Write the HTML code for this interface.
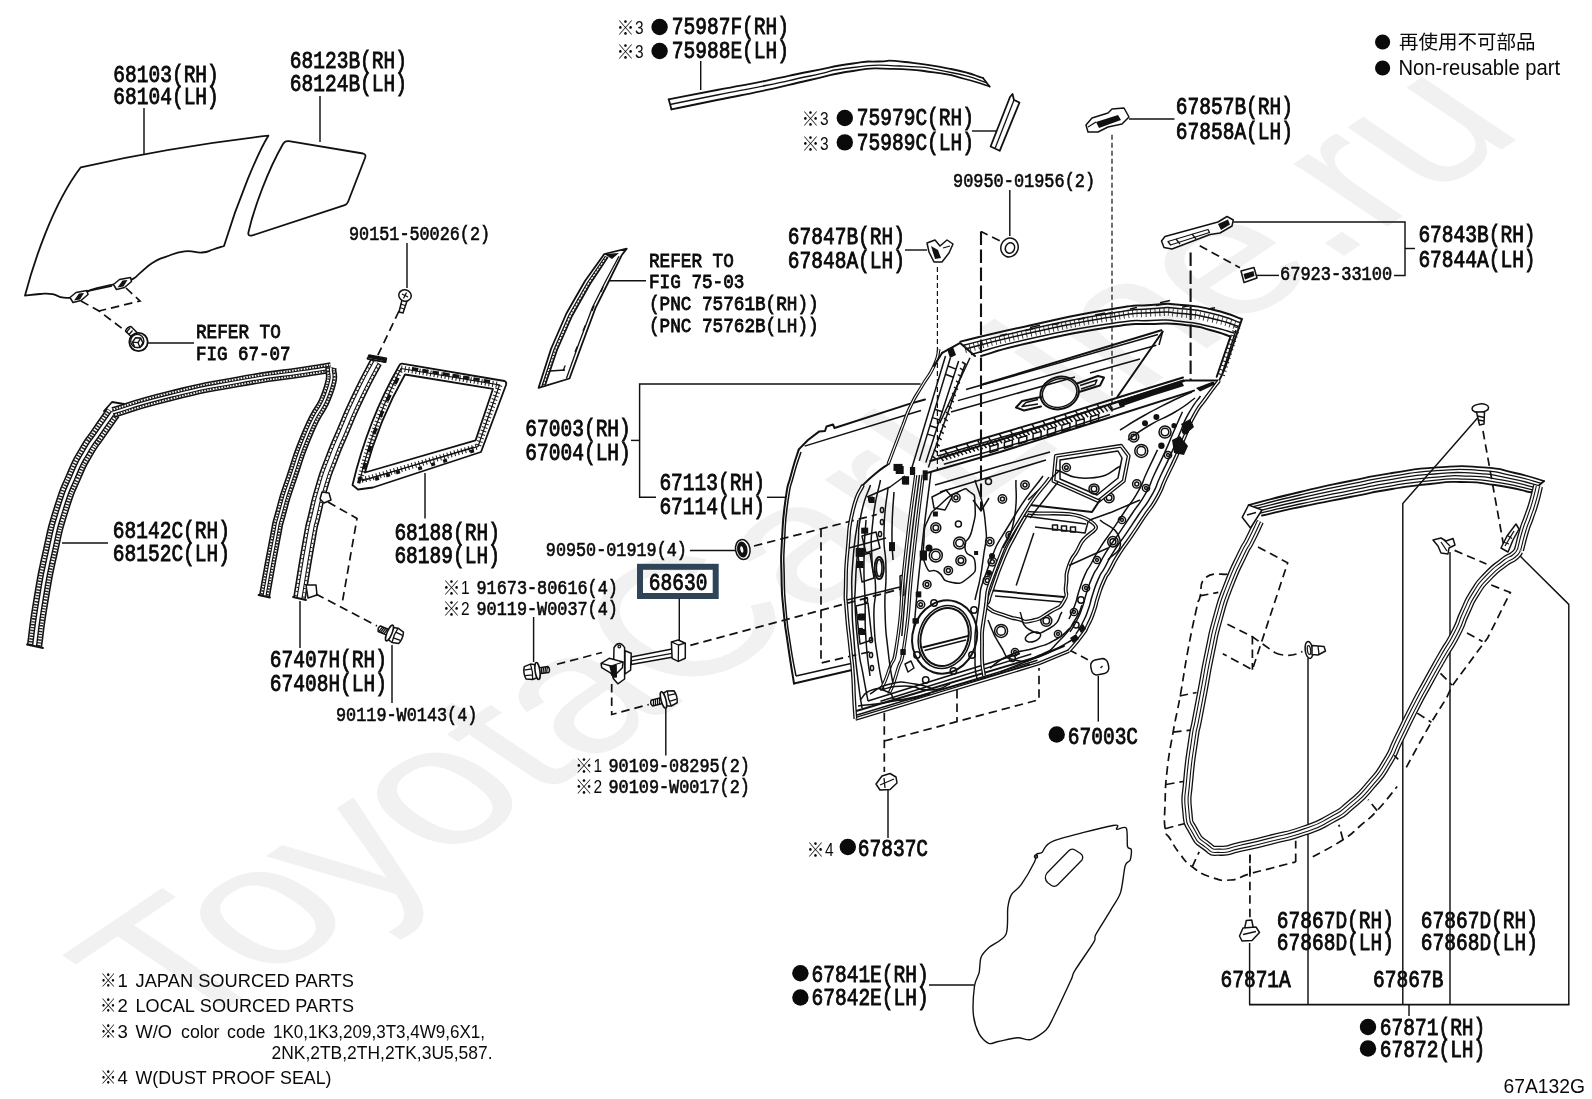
<!DOCTYPE html>
<html lang="ja"><head><meta charset="utf-8"><title>67A132G</title>
<style>
html,body{margin:0;padding:0;background:#fff;}
body{width:1592px;height:1099px;overflow:hidden;}
svg{display:block;will-change:transform;}
text{fill:#0a0a0a;}
.b{font-family:"Liberation Mono",monospace;stroke:#0a0a0a;stroke-width:.9px;}
.s{font-family:"Liberation Mono",monospace;stroke:#0a0a0a;stroke-width:.65px;}
.sb{font-family:"Liberation Mono",monospace;stroke:#0a0a0a;stroke-width:.85px;}
.k{font-family:"Liberation Sans","Noto Sans CJK JP",sans-serif;}
.kd{font-family:"Liberation Sans",sans-serif;}
.n{font-family:"Liberation Sans","Noto Sans CJK JP",sans-serif;}
.wm{font-family:"Liberation Sans",sans-serif;fill:#f1f1f1;}
.l{fill:none;stroke:#111;stroke-width:1.45;}
.o{fill:none;stroke:#111;stroke-width:1.8;stroke-linejoin:round;stroke-linecap:round;}
.t{fill:none;stroke:#111;stroke-width:1.3;stroke-linejoin:round;}
.d{fill:none;stroke:#111;stroke-width:1.7;stroke-dasharray:8.5 5;}
.dd{fill:none;stroke:#111;stroke-width:1.2;stroke-dasharray:5 3;}
.f{fill:#111;stroke:none;}
.door .t{stroke-width:1.5;}
.door .o{stroke-width:2;}
.wf{fill:#fff;stroke:#111;stroke-width:1.5;stroke-linejoin:round;}
</style></head>
<body>
<svg width="1592" height="1099" viewBox="0 0 1592 1099">
<rect width="1592" height="1099" fill="#fff"/>
<text class="wm" transform="matrix(1.7690,-1.1920,1.7690,1.1920,180,1040)" font-size="100" x="0.0 48.3 101.1 148.2 202.2 229.0 282.6 354.8 410.5 443.8 517.4 540.1 593.2 648.8 675.6 706.4" y="0">ToyotaCarLine.ru</text>
<circle cx="1382.6" cy="42.0" r="7.6" fill="#0a0a0a"/>
<circle cx="1382.6" cy="68.0" r="7.6" fill="#0a0a0a"/>
<text class="n" x="1399" y="48.5" font-size="19.5" textLength="136.5" lengthAdjust="spacingAndGlyphs">再使用不可部品</text>
<text class="n" x="1398.5" y="74.7" font-size="21.5" textLength="161.5" lengthAdjust="spacingAndGlyphs">Non-reusable part</text>
<text class="n" x="1503.5" y="1092.8" font-size="19.6" textLength="81.5" lengthAdjust="spacingAndGlyphs">67A132G</text>
<text class="k" x="100" y="987" font-size="18" textLength="16.5" lengthAdjust="spacingAndGlyphs">※</text>
<text class="n" x="117.5" y="987" font-size="18.6">1</text>
<text class="n" x="135.5" y="987" font-size="18.6" textLength="218.5" lengthAdjust="spacingAndGlyphs">JAPAN&#160;SOURCED&#160;PARTS</text>
<text class="k" x="100" y="1012" font-size="18" textLength="16.5" lengthAdjust="spacingAndGlyphs">※</text>
<text class="n" x="117.5" y="1012" font-size="18.6">2</text>
<text class="n" x="135.5" y="1012" font-size="18.6" textLength="218.5" lengthAdjust="spacingAndGlyphs">LOCAL&#160;SOURCED&#160;PARTS</text>
<text class="k" x="100" y="1038" font-size="18" textLength="16.5" lengthAdjust="spacingAndGlyphs">※</text>
<text class="n" x="117.5" y="1038" font-size="18.6">3</text>
<text class="n" x="135.5" y="1038" font-size="18.6" textLength="36.5" lengthAdjust="spacingAndGlyphs">W/O</text>
<text class="n" x="181" y="1038" font-size="18.6" textLength="38.5" lengthAdjust="spacingAndGlyphs">color</text>
<text class="n" x="227" y="1038" font-size="18.6" textLength="38.5" lengthAdjust="spacingAndGlyphs">code</text>
<text class="n" x="273" y="1038" font-size="18.6" textLength="212" lengthAdjust="spacingAndGlyphs">1K0,1K3,209,3T3,4W9,6X1,</text>
<text class="n" x="271.5" y="1058.6" font-size="18.6" textLength="221" lengthAdjust="spacingAndGlyphs">2NK,2TB,2TH,2TK,3U5,587.</text>
<text class="k" x="100" y="1084" font-size="18" textLength="16.5" lengthAdjust="spacingAndGlyphs">※</text>
<text class="n" x="117.5" y="1084" font-size="18.6">4</text>
<text class="n" x="135.5" y="1084" font-size="18.6" textLength="196" lengthAdjust="spacingAndGlyphs">W(DUST&#160;PROOF&#160;SEAL)</text>
<text class="b" x="113.3" y="81.5" font-size="24.6" textLength="105.5" lengthAdjust="spacingAndGlyphs">68103(RH)</text>
<text class="b" x="113.3" y="103.8" font-size="24.6" textLength="105.5" lengthAdjust="spacingAndGlyphs">68104(LH)</text>
<text class="b" x="289.8" y="68.0" font-size="24.6" textLength="117.2" lengthAdjust="spacingAndGlyphs">68123B(RH)</text>
<text class="b" x="289.8" y="90.5" font-size="24.6" textLength="117.2" lengthAdjust="spacingAndGlyphs">68124B(LH)</text>
<text class="b" x="112.8" y="538.0" font-size="24.6" textLength="117.2" lengthAdjust="spacingAndGlyphs">68142C(RH)</text>
<text class="b" x="112.8" y="561.0" font-size="24.6" textLength="117.2" lengthAdjust="spacingAndGlyphs">68152C(LH)</text>
<text class="b" x="394.4" y="540.4" font-size="24.6" textLength="105.5" lengthAdjust="spacingAndGlyphs">68188(RH)</text>
<text class="b" x="394.4" y="563.0" font-size="24.6" textLength="105.5" lengthAdjust="spacingAndGlyphs">68189(LH)</text>
<text class="b" x="269.8" y="667.0" font-size="24.6" textLength="117.2" lengthAdjust="spacingAndGlyphs">67407H(RH)</text>
<text class="b" x="269.8" y="691.0" font-size="24.6" textLength="117.2" lengthAdjust="spacingAndGlyphs">67408H(LH)</text>
<text class="b" x="671.8" y="34.0" font-size="24.6" textLength="117.2" lengthAdjust="spacingAndGlyphs">75987F(RH)</text>
<text class="b" x="671.8" y="58.0" font-size="24.6" textLength="117.2" lengthAdjust="spacingAndGlyphs">75988E(LH)</text>
<text class="b" x="856.8" y="125.0" font-size="24.6" textLength="117.2" lengthAdjust="spacingAndGlyphs">75979C(RH)</text>
<text class="b" x="856.8" y="150.0" font-size="24.6" textLength="117.2" lengthAdjust="spacingAndGlyphs">75989C(LH)</text>
<text class="b" x="787.8" y="244.0" font-size="24.6" textLength="117.2" lengthAdjust="spacingAndGlyphs">67847B(RH)</text>
<text class="b" x="787.8" y="268.0" font-size="24.6" textLength="117.2" lengthAdjust="spacingAndGlyphs">67848A(LH)</text>
<text class="b" x="1175.8" y="114.0" font-size="24.6" textLength="117.2" lengthAdjust="spacingAndGlyphs">67857B(RH)</text>
<text class="b" x="1175.8" y="139.0" font-size="24.6" textLength="117.2" lengthAdjust="spacingAndGlyphs">67858A(LH)</text>
<text class="b" x="1418.4" y="242.0" font-size="24.6" textLength="117.2" lengthAdjust="spacingAndGlyphs">67843B(RH)</text>
<text class="b" x="1418.4" y="266.7" font-size="24.6" textLength="117.2" lengthAdjust="spacingAndGlyphs">67844A(LH)</text>
<text class="b" x="525.3" y="436.0" font-size="24.6" textLength="105.5" lengthAdjust="spacingAndGlyphs">67003(RH)</text>
<text class="b" x="525.3" y="460.0" font-size="24.6" textLength="105.5" lengthAdjust="spacingAndGlyphs">67004(LH)</text>
<text class="b" x="659.4" y="490.0" font-size="24.6" textLength="105.5" lengthAdjust="spacingAndGlyphs">67113(RH)</text>
<text class="b" x="659.4" y="514.0" font-size="24.6" textLength="105.5" lengthAdjust="spacingAndGlyphs">67114(LH)</text>
<text class="b" x="648.8" y="589.6" font-size="24.6" textLength="58.6" lengthAdjust="spacingAndGlyphs">68630</text>
<text class="b" x="1067.8" y="744.0" font-size="24.6" textLength="70.3" lengthAdjust="spacingAndGlyphs">67003C</text>
<text class="b" x="857.8" y="856.0" font-size="24.6" textLength="70.3" lengthAdjust="spacingAndGlyphs">67837C</text>
<text class="b" x="811.5" y="981.5" font-size="24.6" textLength="117.2" lengthAdjust="spacingAndGlyphs">67841E(RH)</text>
<text class="b" x="811.5" y="1005.4" font-size="24.6" textLength="117.2" lengthAdjust="spacingAndGlyphs">67842E(LH)</text>
<text class="b" x="1276.8" y="928.4" font-size="24.6" textLength="117.2" lengthAdjust="spacingAndGlyphs">67867D(RH)</text>
<text class="b" x="1276.8" y="949.6" font-size="24.6" textLength="117.2" lengthAdjust="spacingAndGlyphs">67868D(LH)</text>
<text class="b" x="1420.8" y="928.4" font-size="24.6" textLength="117.2" lengthAdjust="spacingAndGlyphs">67867D(RH)</text>
<text class="b" x="1420.8" y="949.6" font-size="24.6" textLength="117.2" lengthAdjust="spacingAndGlyphs">67868D(LH)</text>
<text class="b" x="1220.5" y="987.0" font-size="24.6" textLength="70.3" lengthAdjust="spacingAndGlyphs">67871A</text>
<text class="b" x="1373.1" y="987.0" font-size="24.6" textLength="70.3" lengthAdjust="spacingAndGlyphs">67867B</text>
<text class="b" x="1379.8" y="1035.2" font-size="24.6" textLength="105.5" lengthAdjust="spacingAndGlyphs">67871(RH)</text>
<text class="b" x="1379.8" y="1056.8" font-size="24.6" textLength="105.5" lengthAdjust="spacingAndGlyphs">67872(LH)</text>
<text class="s" x="349.0" y="239.5" font-size="20.6" textLength="141.1" lengthAdjust="spacingAndGlyphs">90151-50026(2)</text>
<text class="sb" x="196.0" y="338.0" font-size="20.6" textLength="84.8" lengthAdjust="spacingAndGlyphs">REFER&#160;TO</text>
<text class="sb" x="196.0" y="360.0" font-size="20.6" textLength="94.5" lengthAdjust="spacingAndGlyphs">FIG&#160;67-07</text>
<text class="sb" x="649.0" y="267.0" font-size="20.6" textLength="84.8" lengthAdjust="spacingAndGlyphs">REFER&#160;TO</text>
<text class="sb" x="649.0" y="288.0" font-size="20.6" textLength="95.4" lengthAdjust="spacingAndGlyphs">FIG&#160;75-03</text>
<text class="sb" x="649.0" y="310.0" font-size="20.6" textLength="169.6" lengthAdjust="spacingAndGlyphs">(PNC&#160;75761B(RH))</text>
<text class="sb" x="649.0" y="332.0" font-size="20.6" textLength="169.6" lengthAdjust="spacingAndGlyphs">(PNC&#160;75762B(LH))</text>
<text class="s" x="953.0" y="187.0" font-size="20.6" textLength="142.1" lengthAdjust="spacingAndGlyphs">90950-01956(2)</text>
<text class="s" x="1280.0" y="280.0" font-size="20.6" textLength="112.2" lengthAdjust="spacingAndGlyphs">67923-33100</text>
<text class="s" x="545.8" y="555.5" font-size="20.6" textLength="141.1" lengthAdjust="spacingAndGlyphs">90950-01919(4)</text>
<text class="s" x="476.5" y="593.5" font-size="20.6" textLength="141.4" lengthAdjust="spacingAndGlyphs">91673-80616(4)</text>
<text class="s" x="476.5" y="614.5" font-size="20.6" textLength="141.4" lengthAdjust="spacingAndGlyphs">90119-W0037(4)</text>
<text class="s" x="336.0" y="721.0" font-size="20.6" textLength="141.4" lengthAdjust="spacingAndGlyphs">90119-W0143(4)</text>
<text class="s" x="608.5" y="771.5" font-size="20.6" textLength="141.4" lengthAdjust="spacingAndGlyphs">90109-08295(2)</text>
<text class="s" x="608.5" y="792.5" font-size="20.6" textLength="141.4" lengthAdjust="spacingAndGlyphs">90109-W0017(2)</text>
<text class="k" x="616.5" y="34.7" font-size="19" textLength="18" lengthAdjust="spacingAndGlyphs">※</text>
<text class="kd" x="635.0" y="33.5" font-size="17.5" textLength="8.6" lengthAdjust="spacingAndGlyphs">3</text>
<text class="k" x="616.5" y="58.7" font-size="19" textLength="18" lengthAdjust="spacingAndGlyphs">※</text>
<text class="kd" x="635.0" y="57.5" font-size="17.5" textLength="8.6" lengthAdjust="spacingAndGlyphs">3</text>
<text class="k" x="801.5" y="126.2" font-size="19" textLength="18" lengthAdjust="spacingAndGlyphs">※</text>
<text class="kd" x="820.0" y="125.0" font-size="17.5" textLength="8.6" lengthAdjust="spacingAndGlyphs">3</text>
<text class="k" x="801.5" y="151.2" font-size="19" textLength="18" lengthAdjust="spacingAndGlyphs">※</text>
<text class="kd" x="820.0" y="150.0" font-size="17.5" textLength="8.6" lengthAdjust="spacingAndGlyphs">3</text>
<text class="k" x="442.5" y="594.7" font-size="19" textLength="18" lengthAdjust="spacingAndGlyphs">※</text>
<text class="kd" x="461.0" y="593.5" font-size="17.5" textLength="8.6" lengthAdjust="spacingAndGlyphs">1</text>
<text class="k" x="442.5" y="615.7" font-size="19" textLength="18" lengthAdjust="spacingAndGlyphs">※</text>
<text class="kd" x="461.0" y="614.5" font-size="17.5" textLength="8.6" lengthAdjust="spacingAndGlyphs">2</text>
<text class="k" x="575.0" y="772.7" font-size="19" textLength="18" lengthAdjust="spacingAndGlyphs">※</text>
<text class="kd" x="593.5" y="771.5" font-size="17.5" textLength="8.6" lengthAdjust="spacingAndGlyphs">1</text>
<text class="k" x="575.0" y="793.7" font-size="19" textLength="18" lengthAdjust="spacingAndGlyphs">※</text>
<text class="kd" x="593.5" y="792.5" font-size="17.5" textLength="8.6" lengthAdjust="spacingAndGlyphs">2</text>
<text class="k" x="806.5" y="857.2" font-size="19" textLength="18" lengthAdjust="spacingAndGlyphs">※</text>
<text class="kd" x="825.0" y="856.0" font-size="17.5" textLength="8.6" lengthAdjust="spacingAndGlyphs">4</text>
<circle cx="659.6" cy="27.0" r="8.2" fill="#0a0a0a"/>
<circle cx="659.6" cy="51.0" r="8.2" fill="#0a0a0a"/>
<circle cx="844.8" cy="118.0" r="8.2" fill="#0a0a0a"/>
<circle cx="844.8" cy="142.4" r="8.2" fill="#0a0a0a"/>
<circle cx="847.8" cy="847.0" r="8.2" fill="#0a0a0a"/>
<circle cx="800.4" cy="973.2" r="8.2" fill="#0a0a0a"/>
<circle cx="800.4" cy="997.5" r="8.2" fill="#0a0a0a"/>
<circle cx="1056.7" cy="734.5" r="8.2" fill="#0a0a0a"/>
<circle cx="1368.0" cy="1027.0" r="8.2" fill="#0a0a0a"/>
<circle cx="1368.0" cy="1048.5" r="8.2" fill="#0a0a0a"/>
<rect x="640" y="566.8" width="75.7" height="29.2" fill="none" stroke="#2f4557" stroke-width="6"/>
<path class="l" d="M144.0,108.0 L144.0,154.0" />
<path class="l" d="M320.0,96.0 L320.0,142.0" />
<path class="l" d="M148.0,343.0 L194.0,343.0" />
<path class="l" d="M407.0,243.0 L407.0,288.0" />
<path class="l" d="M62.0,543.0 L108.0,543.0" />
<path class="l" d="M425.0,473.0 L425.0,518.5" />
<path class="l" d="M300.0,601.0 L300.0,648.0" />
<path class="l" d="M392.0,645.0 L392.0,703.0" />
<path class="l" d="M700.7,61.0 L700.7,90.0" />
<path class="l" d="M972.0,131.0 L996.0,131.0" />
<path class="l" d="M1009.8,190.0 L1009.8,236.0" />
<path class="l" d="M905.0,250.0 L927.0,250.0" />
<path class="l" d="M609.0,280.7 L646.0,280.7" />
<path class="l" d="M1129.0,119.0 L1174.5,119.0" />
<path class="l" d="M1233.4,222.0 L1405.0,222.0 L1405.0,275.4 L1394.0,275.4" />
<path class="l" d="M1405.0,248.5 L1415.0,248.5" />
<path class="l" d="M1257.0,275.4 L1279.0,275.4" />
<path class="l" d="M920.6,384.0 L639.6,384.0 L639.6,497.3 L656.0,497.3" />
<path class="l" d="M631.0,440.4 L639.6,440.4" />
<path class="l" d="M767.0,497.3 L786.0,497.3" />
<path class="l" d="M690.0,550.5 L736.0,550.5" />
<path class="l" d="M679.3,598.5 L679.3,641.0" />
<path class="l" d="M533.6,617.0 L533.6,662.0" />
<path class="l" d="M665.8,708.5 L665.8,755.5" />
<path class="l" d="M888.0,789.0 L888.0,838.0" />
<path class="l" d="M929.0,985.0 L974.0,985.0" />
<path class="l" d="M1098.3,676.0 L1098.3,721.6" />
<path class="l" d="M1481.0,414.0 L1402.8,503.4 L1402.8,1004.6" />
<path class="l" d="M1450.0,552.0 L1450.0,1004.6" />
<path class="l" d="M1519.6,555.6 L1568.8,604.4 L1568.8,1004.6" />
<path class="l" d="M1308.0,658.0 L1308.0,1004.6" />
<path class="l" d="M1249.6,943.0 L1249.6,1004.6" />
<path class="l" d="M1249.0,1004.6 L1569.5,1004.6" style="stroke-width:1.6"/>
<path class="l" d="M1409.0,1004.6 L1409.0,1016.0" />
<path class="o" d="M80.8,167.3 C140,154 205,143 268.4,135.7 C258,152 238,200 224,246 L224.0,246.0 C221.1,246.9 218.9,247.8 213.0,249.5 C207.1,251.2 209.6,252.0 202.0,252.5 C194.4,253.0 194.2,250.1 184.5,251.3 C174.8,252.5 174.0,253.9 165.6,256.9 C157.2,259.9 159.7,258.4 153.0,262.6 C146.3,266.8 145.8,268.3 140.5,272.6 C135.2,276.9 138.2,276.0 133.0,278.9 C127.8,281.8 127.0,281.6 121.0,283.3 C115.0,285.0 118.6,283.4 110.4,285.2 C102.2,287.0 98.5,287.3 90.3,290.2 C82.1,293.1 86.6,293.9 79.6,295.9 C72.6,297.9 71.1,298.2 63.9,297.7 C56.7,297.2 59.0,295.2 52.6,294.2 C46.2,293.2 47.4,293.6 40.0,294.0 C32.6,294.4 29.0,295.2 25.0,295.6 C33,265 52,205 80.8,167.3 Z" />
<path class="o" d="M283,144 Q285,140.5 289,141.2 L363,153.5 Q366.5,154.5 365,158 L348,202 Q347,204.5 344,205.3 L252,235.5 Q247.5,236.5 248.5,232 C254,208 268,170 283,144 Z" />
<path class="wf" d="M70.0,297.5 L76.0,292.5 L87.0,290.5 L88.0,294.5 L81.0,300.5 L73.0,302.5 Z" />
<path class="f" d="M74.0,300.5 L79.0,293.5 L84.0,293.0 L80.0,299.5 Z" />
<path class="wf" d="M113.5,284.5 L119.5,279.5 L130.5,277.5 L131.5,281.5 L124.5,287.5 L116.5,289.5 Z" />
<path class="f" d="M117.5,287.5 L122.5,280.5 L127.5,280.0 L123.5,286.5 Z" />
<path class="l" d="M86.0,291.5 L112.0,286.0" />
<path class="d" d="M81.0,301.0 L99.0,311.0 L128.0,333.0" />
<path class="d" d="M126.0,288.0 L140.0,301.0 L99.0,311.0" />
<g transform="translate(138.5,342)"><path class="wf" d="M-6,-4 L-13,-11 Q-11.5,-15 -7.5,-15.5 L0,-8 Z"/><path class="t" d="M-9.5,-7.5 L-6,-11.5 M-12,-10 L-8.5,-14"/><circle class="wf" r="9.2" style="stroke-width:1.8"/><circle class="t" cx="-1.2" cy="-1" r="6.6"/><path class="wf" d="M4.5,1 L1.5,5.6 L-3.8,5.2 L-6,0.2 L-3,-4.2 L2.2,-3.9 Z"/><path class="t" d="M-0.5,0.6 L2.2,-3.9 M-0.5,0.6 L-6,0.2 M-0.5,0.6 L1.5,5.6"/></g>
<path class="d" d="M399.0,311.0 L377.0,357.0" />
<path class="wf" d="M402.0,300.0 L399.0,312.0 L403.0,313.0 L407.0,301.0 Z" />
<path class="t" d="M400.5,304.0 L405.0,305.5" />
<path class="t" d="M399.8,307.5 L404.2,309.0" />
<ellipse class="wf" cx="405.0" cy="295.5" rx="6.3" ry="5.6" transform="rotate(15 405.0 295.5)"/>
<path class="t" d="M402.0,294.0 L408.0,297.0" />
<path class="t" d="M406.5,292.5 L403.5,298.5" />
<path d="M34.5,646.0 C36.7,630.7 35.7,631.7 41.0,600.0 C46.3,568.3 43.8,581.0 50.5,551.0 C57.2,521.0 53.3,534.7 61.0,510.0 C68.7,485.3 65.2,496.3 73.5,477.0 C81.8,457.7 77.8,466.3 86.0,452.0 C94.2,437.7 89.0,447.2 98.0,434.0 C107.0,420.8 108.0,419.7 113.0,412.5" fill="none" stroke="#111" stroke-width="15.5" stroke-linejoin="round"/>
<path d="M34.5,646.0 C36.7,630.7 35.7,631.7 41.0,600.0 C46.3,568.3 43.8,581.0 50.5,551.0 C57.2,521.0 53.3,534.7 61.0,510.0 C68.7,485.3 65.2,496.3 73.5,477.0 C81.8,457.7 77.8,466.3 86.0,452.0 C94.2,437.7 89.0,447.2 98.0,434.0 C107.0,420.8 108.0,419.7 113.0,412.5" fill="none" stroke="#fff" stroke-width="12.3" stroke-linejoin="round"/>
<path d="M34.5,646.0 C36.7,630.7 35.7,631.7 41.0,600.0 C46.3,568.3 43.8,581.0 50.5,551.0 C57.2,521.0 53.3,534.7 61.0,510.0 C68.7,485.3 65.2,496.3 73.5,477.0 C81.8,457.7 77.8,466.3 86.0,452.0 C94.2,437.7 89.0,447.2 98.0,434.0 C107.0,420.8 108.0,419.7 113.0,412.5" fill="none" stroke="#222" stroke-width="12.3" stroke-dasharray="1.4 1.5" stroke-linejoin="round"/>
<path d="M34.5,646.0 C36.7,630.7 35.7,631.7 41.0,600.0 C46.3,568.3 43.8,581.0 50.5,551.0 C57.2,521.0 53.3,534.7 61.0,510.0 C68.7,485.3 65.2,496.3 73.5,477.0 C81.8,457.7 77.8,466.3 86.0,452.0 C94.2,437.7 89.0,447.2 98.0,434.0 C107.0,420.8 108.0,419.7 113.0,412.5" fill="none" stroke="#111" stroke-width="5.4" stroke-linejoin="round"/>
<path d="M34.5,646.0 C36.7,630.7 35.7,631.7 41.0,600.0 C46.3,568.3 43.8,581.0 50.5,551.0 C57.2,521.0 53.3,534.7 61.0,510.0 C68.7,485.3 65.2,496.3 73.5,477.0 C81.8,457.7 77.8,466.3 86.0,452.0 C94.2,437.7 89.0,447.2 98.0,434.0 C107.0,420.8 108.0,419.7 113.0,412.5" fill="none" stroke="#fff" stroke-width="2.6" stroke-linejoin="round"/>
<path d="M113.0,412.5 C132.0,407.0 128.7,406.2 170.0,396.0 C211.3,385.8 192.7,390.0 237.0,382.0 C281.3,374.0 271.7,376.8 303.0,372.0 C334.3,367.2 321.7,369.0 331.0,367.5" fill="none" stroke="#111" stroke-width="10.8" stroke-linejoin="round"/>
<path d="M113.0,412.5 C132.0,407.0 128.7,406.2 170.0,396.0 C211.3,385.8 192.7,390.0 237.0,382.0 C281.3,374.0 271.7,376.8 303.0,372.0 C334.3,367.2 321.7,369.0 331.0,367.5" fill="none" stroke="#fff" stroke-width="7.6000000000000005" stroke-linejoin="round"/>
<path d="M113.0,412.5 C132.0,407.0 128.7,406.2 170.0,396.0 C211.3,385.8 192.7,390.0 237.0,382.0 C281.3,374.0 271.7,376.8 303.0,372.0 C334.3,367.2 321.7,369.0 331.0,367.5" fill="none" stroke="#222" stroke-width="7.6000000000000005" stroke-dasharray="1.4 1.5" stroke-linejoin="round"/>
<path d="M113.0,412.5 C132.0,407.0 128.7,406.2 170.0,396.0 C211.3,385.8 192.7,390.0 237.0,382.0 C281.3,374.0 271.7,376.8 303.0,372.0 C334.3,367.2 321.7,369.0 331.0,367.5" fill="none" stroke="#111" stroke-width="4" stroke-linejoin="round"/>
<path d="M113.0,412.5 C132.0,407.0 128.7,406.2 170.0,396.0 C211.3,385.8 192.7,390.0 237.0,382.0 C281.3,374.0 271.7,376.8 303.0,372.0 C334.3,367.2 321.7,369.0 331.0,367.5" fill="none" stroke="#fff" stroke-width="1.8" stroke-linejoin="round"/>
<path d="M331.0,367.5 C329.8,376.0 335.0,371.8 327.5,393.0 C320.0,414.2 320.5,402.7 308.5,431.0 C296.5,459.3 300.7,451.0 291.5,478.0 C282.3,505.0 286.7,491.0 281.0,512.0 C275.3,533.0 280.0,513.0 274.5,541.0 C269.0,569.0 267.8,577.7 264.5,596.0" fill="none" stroke="#111" stroke-width="11.2" stroke-linejoin="round"/>
<path d="M331.0,367.5 C329.8,376.0 335.0,371.8 327.5,393.0 C320.0,414.2 320.5,402.7 308.5,431.0 C296.5,459.3 300.7,451.0 291.5,478.0 C282.3,505.0 286.7,491.0 281.0,512.0 C275.3,533.0 280.0,513.0 274.5,541.0 C269.0,569.0 267.8,577.7 264.5,596.0" fill="none" stroke="#fff" stroke-width="7.999999999999999" stroke-linejoin="round"/>
<path d="M331.0,367.5 C329.8,376.0 335.0,371.8 327.5,393.0 C320.0,414.2 320.5,402.7 308.5,431.0 C296.5,459.3 300.7,451.0 291.5,478.0 C282.3,505.0 286.7,491.0 281.0,512.0 C275.3,533.0 280.0,513.0 274.5,541.0 C269.0,569.0 267.8,577.7 264.5,596.0" fill="none" stroke="#222" stroke-width="7.999999999999999" stroke-dasharray="1.4 1.5" stroke-linejoin="round"/>
<path d="M331.0,367.5 C329.8,376.0 335.0,371.8 327.5,393.0 C320.0,414.2 320.5,402.7 308.5,431.0 C296.5,459.3 300.7,451.0 291.5,478.0 C282.3,505.0 286.7,491.0 281.0,512.0 C275.3,533.0 280.0,513.0 274.5,541.0 C269.0,569.0 267.8,577.7 264.5,596.0" fill="none" stroke="#111" stroke-width="4" stroke-linejoin="round"/>
<path d="M331.0,367.5 C329.8,376.0 335.0,371.8 327.5,393.0 C320.0,414.2 320.5,402.7 308.5,431.0 C296.5,459.3 300.7,451.0 291.5,478.0 C282.3,505.0 286.7,491.0 281.0,512.0 C275.3,533.0 280.0,513.0 274.5,541.0 C269.0,569.0 267.8,577.7 264.5,596.0" fill="none" stroke="#fff" stroke-width="1.8" stroke-linejoin="round"/>
<path class="o" d="M27.0,644.5 L43.0,648.0" />
<path class="o" d="M258.5,595.0 L270.0,597.5" />
<path class="o" d="M104.0,411.0 L112.0,402.0 L124.0,404.0" />
<path d="M376.0,362.0 C370.0,373.7 369.0,374.0 358.0,397.0 C347.0,420.0 352.0,410.0 343.0,431.0 C334.0,452.0 338.0,441.7 331.0,460.0 C324.0,478.3 327.5,467.7 322.0,486.0 C316.5,504.3 318.8,496.7 314.5,515.0 C310.2,533.3 314.0,513.3 309.0,541.0 C304.0,568.7 302.7,579.0 299.5,598.0" fill="none" stroke="#111" stroke-width="12.8" stroke-linejoin="round"/>
<path d="M376.0,362.0 C370.0,373.7 369.0,374.0 358.0,397.0 C347.0,420.0 352.0,410.0 343.0,431.0 C334.0,452.0 338.0,441.7 331.0,460.0 C324.0,478.3 327.5,467.7 322.0,486.0 C316.5,504.3 318.8,496.7 314.5,515.0 C310.2,533.3 314.0,513.3 309.0,541.0 C304.0,568.7 302.7,579.0 299.5,598.0" fill="none" stroke="#fff" stroke-width="9.600000000000001" stroke-linejoin="round"/>
<path d="M376.0,362.0 C370.0,373.7 369.0,374.0 358.0,397.0 C347.0,420.0 352.0,410.0 343.0,431.0 C334.0,452.0 338.0,441.7 331.0,460.0 C324.0,478.3 327.5,467.7 322.0,486.0 C316.5,504.3 318.8,496.7 314.5,515.0 C310.2,533.3 314.0,513.3 309.0,541.0 C304.0,568.7 302.7,579.0 299.5,598.0" fill="none" stroke="#222" stroke-width="9.600000000000001" stroke-dasharray="1 3.2" stroke-linejoin="round"/>
<path d="M376.0,362.0 C370.0,373.7 369.0,374.0 358.0,397.0 C347.0,420.0 352.0,410.0 343.0,431.0 C334.0,452.0 338.0,441.7 331.0,460.0 C324.0,478.3 327.5,467.7 322.0,486.0 C316.5,504.3 318.8,496.7 314.5,515.0 C310.2,533.3 314.0,513.3 309.0,541.0 C304.0,568.7 302.7,579.0 299.5,598.0" fill="none" stroke="#111" stroke-width="6" stroke-linejoin="round"/>
<path d="M376.0,362.0 C370.0,373.7 369.0,374.0 358.0,397.0 C347.0,420.0 352.0,410.0 343.0,431.0 C334.0,452.0 338.0,441.7 331.0,460.0 C324.0,478.3 327.5,467.7 322.0,486.0 C316.5,504.3 318.8,496.7 314.5,515.0 C310.2,533.3 314.0,513.3 309.0,541.0 C304.0,568.7 302.7,579.0 299.5,598.0" fill="none" stroke="#fff" stroke-width="3.8" stroke-linejoin="round"/>
<path class="o" d="M367.5,358.5 L385.5,362.0" />
<path class="o" d="M293.0,597.0 L306.0,600.0" />
<path class="wf" d="M369.0,355.0 L386.5,358.3 L385.5,362.0 L367.5,358.7 Z" />
<path class="o" d="M369.5,356.8 L385.0,359.8" style="stroke-width:3"/>
<path class="wf" d="M322.0,492.0 L329.0,493.0 L331.0,500.0 L324.0,503.0 L320.0,499.0 Z" />
<path class="wf" d="M306.0,585.0 L316.0,585.0 L317.0,595.0 L308.0,598.0 Z" />
<path class="d" d="M328.0,502.0 L357.0,518.5 L342.0,604.0" />
<path class="d" d="M316.0,594.0 L377.0,626.0" />
<g transform="translate(389.5,633.0) rotate(203) scale(1.0)"><path class="wf" d="M1,-3 L11,-3 Q13.2,0 11,3 L1,3 Z"/><path class="t" d="M3.2,3 L4.8,-3"/><path class="t" d="M5.1,3 L6.7,-3"/><path class="t" d="M7.0,3 L8.6,-3"/><path class="t" d="M8.8,3 L10.4,-3"/><path class="wf" d="M-1.5,-6.6 L-6,-7.8 L-12.5,-6.2 Q-14.8,0 -12.5,6.2 L-6,7.8 L-1.5,6.6 Z"/><path class="t" d="M-12.9,-2.6 L-5.5,-3 M-12.9,2.9 L-5.5,3.2 M-6,-7.8 Q-4.4,0 -6,7.8"/><ellipse class="wf" cx="0" cy="0" rx="2.4" ry="8.5" style="stroke-width:1.6"/></g>
<path d="M402,363.6 L504.5,381 Q507,382 506,385 L481,452 L373,487.5 L358,489.5 L352.5,485 Q368,420 399,366 Q400,363.4 402,363.6 Z" fill="#fff" stroke="#111" stroke-width="1.8" stroke-linejoin="round"/>
<path d="M401,368.5 L499.5,385 L478,446.5 L369,478.5 L360,480 Q374,421 401,368.5 Z" fill="none" stroke="#222" stroke-width="6" stroke-dasharray="1.1 2.6"/>
<path d="M401,368.5 L499.5,385 L478,446.5 L369,478.5 L360,480 Q374,421 401,368.5 Z" fill="none" stroke="#111" stroke-width="1.2"/>
<path d="M405,374.5 L493,388.8 L475.6,440.4 L365,472.5 Q379,420 405,374.5 Z" fill="#fff" stroke="#111" stroke-width="1.8" stroke-linejoin="round"/>
<path class="t" d="M362.0,481.0 L474.0,447.0" />
<rect class="f" x="411.9" y="367.5" width="6.4" height="3.2" transform="rotate(9.5 415.1 369.1)"/>
<rect class="f" x="422.2" y="369.2" width="6.4" height="3.2" transform="rotate(9.5 425.4 370.8)"/>
<rect class="f" x="432.4" y="370.9" width="6.4" height="3.2" transform="rotate(9.5 435.6 372.5)"/>
<rect class="f" x="442.6" y="372.6" width="6.4" height="3.2" transform="rotate(9.5 445.8 374.2)"/>
<rect class="f" x="452.9" y="374.3" width="6.4" height="3.2" transform="rotate(9.5 456.1 375.9)"/>
<rect class="f" x="463.1" y="376.0" width="6.4" height="3.2" transform="rotate(9.5 466.3 377.6)"/>
<rect class="f" x="473.3" y="377.7" width="6.4" height="3.2" transform="rotate(9.5 476.5 379.3)"/>
<rect class="f" x="483.6" y="379.4" width="6.4" height="3.2" transform="rotate(9.5 486.8 381.0)"/>
<rect class="f" x="393.1" y="379.3" width="6.8" height="3.4" transform="rotate(-62 396.5 381.0)"/>
<rect class="f" x="385.1" y="396.3" width="6.8" height="3.4" transform="rotate(-64 388.5 398.0)"/>
<rect class="f" x="378.1" y="412.3" width="6.8" height="3.4" transform="rotate(-67 381.5 414.0)"/>
<rect class="f" x="371.6" y="429.3" width="6.8" height="3.4" transform="rotate(-70 375.0 431.0)"/>
<rect class="f" x="366.1" y="447.3" width="6.8" height="3.4" transform="rotate(-73 369.5 449.0)"/>
<rect class="f" x="361.1" y="464.3" width="6.8" height="3.4" transform="rotate(-75 364.5 466.0)"/>
<rect class="f" x="356.1" y="478.3" width="6.8" height="3.4" transform="rotate(-76 359.5 480.0)"/>
<rect class="f" x="375.0" y="477.0" width="4" height="3.4" transform="rotate(-17 377.0 478.5)"/>
<rect class="f" x="386.0" y="473.5" width="4" height="3.4" transform="rotate(-17 388.0 475.0)"/>
<rect class="f" x="396.0" y="470.5" width="4" height="3.4" transform="rotate(-17 398.0 472.0)"/>
<rect class="f" x="418.0" y="466.5" width="4" height="3.4" transform="rotate(-17 420.0 468.0)"/>
<rect class="f" x="431.0" y="462.5" width="4" height="3.4" transform="rotate(-17 433.0 464.0)"/>
<rect class="f" x="443.0" y="459.0" width="4" height="3.4" transform="rotate(-17 445.0 460.5)"/>
<rect class="f" x="470.0" y="449.5" width="4" height="3.4" transform="rotate(-17 472.0 451.0)"/>
<path class="o" d="M668.7,99.3 C684.8,96.2 684.7,96.2 717.0,90.0 C749.3,83.8 734.7,87.0 765.7,80.8 C796.7,74.6 780.9,77.3 810.0,71.5 C839.1,65.7 830.3,66.8 853.0,63.5 C875.7,60.2 860.7,62.0 878.0,61.5 C895.3,61.0 880.7,59.5 905.0,62.0 C929.3,64.5 925.0,63.7 951.0,69.0 C977.0,74.3 972.3,75.0 983.0,78.0" />
<path class="o" d="M671.5,109.4 C686.7,106.3 685.6,106.4 717.0,100.0 C748.4,93.6 734.7,96.9 765.7,90.2 C796.7,83.5 780.9,86.4 810.0,80.0 C839.1,73.6 826.3,74.7 853.0,71.0 C879.7,67.3 863.0,68.3 890.0,68.8 C917.0,69.3 909.0,69.0 934.0,72.4 C959.0,75.8 946.5,74.3 965.0,79.0 C983.5,83.7 981.4,84.0 989.6,86.5" />
<path class="t" d="M670.0,104.5 C685.7,101.3 685.1,101.3 717.0,95.0 C748.9,88.7 734.7,91.8 765.7,85.5 C796.7,79.2 780.9,82.0 810.0,76.0 C839.1,70.0 823.0,70.8 853.0,67.5 C883.0,64.2 867.3,64.3 900.0,66.0 C932.7,67.7 922.3,67.0 951.0,72.5 C979.7,78.0 974.3,79.2 986.0,82.5" />
<path class="o" d="M668.7,99.3 L671.5,109.4" />
<path class="o" d="M983.0,78.0 L989.6,86.5" />
<path class="o" d="M1012.5,94.0 L1014.0,100.0 L1019.5,102.5 L999.7,150.8 L990.6,146.5 L1010.0,97.0 Z" />
<path class="t" d="M1014.0,100.0 L995.0,148.5" />
<ellipse class="wf" cx="1009.5" cy="247.5" rx="8.6" ry="9.5" transform="rotate(20 1009.5 247.5)"/>
<ellipse class="wf" cx="1010.0" cy="248.0" rx="4.6" ry="5.4" transform="rotate(20 1010.0 248.0)"/>
<path class="d" d="M999.7,240.7 L981.0,231.6" />
<path class="d" d="M981.0,231.6 L981.0,511.0" style="stroke-width:2.1;stroke-dasharray:13.5 4.5"/>
<path class="wf" d="M927.0,243.0 L935.0,240.0 L940.0,246.0 L947.0,240.0 L953.0,244.0 L949.0,253.0 L942.0,262.0 L934.0,262.0 L929.0,252.0 Z" />
<path class="f" d="M931.0,246.0 L938.0,250.0 L941.0,258.0 L935.0,259.0 Z" />
<path class="t" d="M943.0,248.0 L950.0,246.0" />
<path class="dd" d="M937.4,267.0 L937.4,470.0" />
<path class="wf" d="M1086.0,125.0 L1092.0,118.0 L1108.0,113.0 L1112.0,109.0 L1124.0,108.0 L1129.0,117.0 L1122.0,124.0 L1108.0,127.0 L1098.0,132.0 L1088.0,132.0 Z" />
<path class="f" d="M1096.0,122.0 L1118.0,115.0 L1121.0,120.0 L1099.0,128.0 Z" />
<path class="t" d="M1088.0,127.0 L1096.0,122.0" />
<path class="dd" d="M1112.0,134.7 L1112.0,415.0" />
<path class="wf" d="M1161.5,241.0 L1165.0,236.5 L1218.0,222.0 L1227.0,216.5 L1233.3,220.0 L1232.0,226.0 L1220.0,233.0 L1210.0,234.5 L1172.0,249.0 L1164.0,247.5 Z" />
<path class="t" d="M1168.0,241.5 L1208.0,229.5 L1209.5,232.5 L1170.5,245.0 Z" />
<path class="f" d="M1218.0,224.0 L1228.0,219.5 L1230.0,224.5 L1221.0,230.0 Z" />
<path class="t" d="M1176.0,239.0 L1180.0,244.0" />
<path class="t" d="M1192.0,234.0 L1196.0,239.0" />
<path class="d" d="M1199.7,245.8 L1240.0,267.7" />
<path class="d" d="M1190.6,252.5 L1190.6,380.0" style="stroke-width:2.1;stroke-dasharray:13.5 4.5"/>
<path class="wf" d="M1241.0,271.0 L1254.0,267.5 L1257.0,278.0 L1244.0,282.5 Z" />
<path class="f" d="M1243.5,274.0 L1253.5,271.0 L1254.5,276.0 L1245.0,279.5 Z" />
<path class="o" d="M626.7,248.6 L604.3,254.0 L585.0,281.0 L566.4,313.5 L551.0,349.0 L538.6,387.8 L569.5,378.5 L581.9,344.5 L595.8,307.3 L609.7,279.5 L622.0,254.7 Z" style="stroke-width:1.8"/>
<path class="o" d="M545.5,384.0 L557.0,350.0 L572.0,316.0 L590.0,284.0 L607.5,257.5" />
<path class="t" d="M542.0,386.0 L554.0,349.5 L569.0,315.0 L587.5,282.5 L605.5,256.0" />
<path class="t" d="M566.4,378.5 L578.5,344.5 L592.5,307.3 L606.5,279.5 L619.0,256.3" />
<path class="f" d="M604.3,254.0 L612.0,259.0 L619.0,253.0 Z" />
<path class="t" d="M550.0,371.0 L565.0,370.0" />
<path d="M543.8,385 L555.5,349.7 L570.5,315.5 L588.7,283.2 L606.5,256.7" fill="none" stroke="#222" stroke-width="3" stroke-dasharray="1 2.4"/>
<path class="t" d="M575.0,352.0 L577.2,346.5" />
<path class="t" d="M583.0,331.0 L585.2,325.5" />
<path class="t" d="M592.0,311.0 L594.2,305.5" />
<path class="t" d="M601.0,292.0 L603.2,286.5" />
<path class="t" d="M563.0,371.0 L565.2,365.5" />
<ellipse class="wf" cx="742.8" cy="549.5" rx="7.2" ry="10" transform="rotate(-10 742.8 549.5)"/>
<ellipse class="f" cx="742.3" cy="549.5" rx="5.2" ry="8" transform="rotate(-10 742.3 549.5)"/>
<ellipse class="wf" cx="741.8" cy="549.5" rx="2.2" ry="4" transform="rotate(-10 741.8 549.5)"/>
<path class="d" d="M754.0,546.0 L876.8,514.5" />
<g transform="translate(537.5,671.0) rotate(-8) scale(1.0)"><path class="wf" d="M1,-3 L11,-3 Q13.2,0 11,3 L1,3 Z"/><path class="t" d="M3.2,3 L4.8,-3"/><path class="t" d="M5.1,3 L6.7,-3"/><path class="t" d="M7.0,3 L8.6,-3"/><path class="t" d="M8.8,3 L10.4,-3"/><path class="wf" d="M-1.5,-6.6 L-6,-7.8 L-12.5,-6.2 Q-14.8,0 -12.5,6.2 L-6,7.8 L-1.5,6.6 Z"/><path class="t" d="M-12.9,-2.6 L-5.5,-3 M-12.9,2.9 L-5.5,3.2 M-6,-7.8 Q-4.4,0 -6,7.8"/><ellipse class="wf" cx="0" cy="0" rx="2.4" ry="8.5" style="stroke-width:1.6"/></g>
<path class="d" d="M557.0,664.3 L602.0,652.5" />
<path class="wf" d="M631.2,657.0 L673.3,648.8 L673.3,657.0 L631.2,664.5 Z" />
<path class="t" d="M631.2,660.8 L673.3,653.2" />
<path class="wf" d="M614,647.6 Q619,639.5 624.6,647.6 L624.6,679 L617.8,683.8 L613.3,678.4 Z" />
<path class="wf" d="M601.1,663.3 L609.2,658.3 L623.1,662.0 L622.4,667.7 L614.0,676.0 L610.0,672.7 L601.7,667.7 Z" />
<path class="f" d="M609.2,666.0 L616.8,664.5 L617.0,677.5 L612.5,678.0 Z" />
<path class="t" d="M601.1,663.3 L611.0,666.0 L623.1,662.0" />
<path class="t" d="M611.0,666.0 L612.0,676.0" />
<path class="wf" d="M625.0,650.7 L631.2,653.2 L630.6,670.2 L625.0,674.0 Z" />
<circle class="t" cx="619.3" cy="646.5" r="1.3" />
<path class="wf" d="M671.4,641.9 L678.3,640.0 L685.3,643.2 L685.3,658.3 L678.3,661.4 L672.1,658.3 Z" />
<path class="t" d="M671.4,641.9 L678.5,645.0 L685.3,643.2" />
<path class="t" d="M678.5,645.0 L678.3,661.4" />
<path class="d" d="M690.3,645.4 L900.0,589.0" />
<path class="d" d="M611.7,684.0 L611.7,714.5 L648.8,704.5" />
<g transform="translate(663.5,700.0) rotate(165) scale(1.0)"><path class="wf" d="M1,-3 L12,-3 Q14.2,0 12,3 L1,3 Z"/><path class="t" d="M3.2,3 L4.8,-3"/><path class="t" d="M5.3,3 L6.9,-3"/><path class="t" d="M7.5,3 L9.1,-3"/><path class="t" d="M9.6,3 L11.2,-3"/><path class="wf" d="M-1.5,-6.6 L-6,-7.8 L-12.5,-6.2 Q-14.8,0 -12.5,6.2 L-6,7.8 L-1.5,6.6 Z"/><path class="t" d="M-12.9,-2.6 L-5.5,-3 M-12.9,2.9 L-5.5,3.2 M-6,-7.8 Q-4.4,0 -6,7.8"/><ellipse class="wf" cx="0" cy="0" rx="2.4" ry="8.5" style="stroke-width:1.6"/></g>
<path class="d" d="M821.0,528.7 L821.0,663.0 L873.0,651.0" />
<path class="wf" d="M876.0,784.0 L882.0,776.0 L890.0,773.5 L896.0,777.0 L897.0,783.0 L890.0,789.5 L880.0,790.0 Z" />
<path class="t" d="M880.0,785.0 L894.0,779.0" />
<path class="t" d="M884.0,778.0 L885.0,788.0" />
<path class="d" d="M884.3,712.8 L884.3,772.0" />
<path class="d" d="M884.3,741.0 L1039.0,699.7 L1039.0,668.0" />
<path class="d" d="M957.0,690.0 L957.0,721.0" />
<rect class="wf" x="1091" y="659.3" width="17.5" height="15" rx="5.5" transform="rotate(-12 1099.6 666.8)"/>
<path class="t" d="M1100.5,668.0 L1102.5,666.0" />
<path class="d" d="M1069.0,649.7 L1087.8,659.7" />
<path class="o" d="M1053.7,840.8 C1064.1,836.9 1103.7,827.2 1113.0,825.5 C1122.3,823.8 1114.8,828.9 1116.8,829.3 C1118.8,829.7 1124.7,825.6 1126.3,828.1 C1127.9,830.6 1126.8,843.3 1127.5,846.5 C1128.2,849.7 1130.9,847.6 1131.3,849.6 C1131.7,851.6 1131.1,857.6 1130.2,859.9 C1129.3,862.2 1126.6,860.8 1125.2,865.6 C1123.8,870.4 1122.7,885.9 1120.6,892.4 C1118.5,898.9 1114.6,903.4 1111.0,909.6 C1107.4,915.8 1098.3,929.7 1095.8,934.5 C1093.3,939.3 1096.9,936.8 1093.8,942.1 C1090.7,947.4 1078.1,965.2 1074.7,970.8 C1071.3,976.4 1074.0,973.6 1070.9,980.3 C1067.8,987.0 1057.4,1009.4 1053.7,1016.7 C1050.0,1024.0 1049.4,1026.6 1046.0,1030.0 C1042.6,1033.4 1034.9,1038.5 1030.7,1039.6 C1026.5,1040.7 1022.2,1037.4 1017.4,1037.7 C1012.6,1038.0 1002.4,1040.7 998.2,1041.5 C994.0,1042.3 991.5,1044.5 988.7,1043.4 C985.9,1042.3 981.3,1038.1 979.1,1033.9 C976.9,1029.7 974.1,1021.8 973.4,1014.8 C972.7,1007.8 973.7,992.2 974.5,986.0 C975.3,979.8 978.1,976.9 979.1,972.7 C980.1,968.5 979.6,961.1 981.0,957.4 C982.4,953.7 985.0,951.2 988.7,947.8 C992.4,944.4 1003.1,940.4 1005.9,934.5 C1008.7,928.6 1007.0,913.6 1007.8,907.7 C1008.6,901.8 1009.6,897.7 1011.6,894.3 C1013.6,890.9 1017.8,889.5 1021.2,884.7 C1024.6,879.9 1032.4,866.3 1034.6,861.8 C1036.8,857.3 1035.4,855.6 1036.5,854.2 C1037.6,852.8 1039.7,854.2 1042.2,852.2 C1044.7,850.2 1043.3,844.7 1053.7,840.8 Z" style="stroke-width:1.4"/>
<path class="t" d="M1047,873 L1068.5,851 Q1071.5,848 1075,850 L1080.5,853.5 Q1084,856 1082,860 L1058,884.5 Q1055,887.5 1051.5,885.5 L1047.5,882.5 Q1043.5,878 1047,873 Z" />
<circle class="t" cx="1036.0" cy="856.5" r="1.6" />
<path d="M1259.0,521.0 C1256.0,527.3 1255.7,528.7 1250.0,540.0 C1244.3,551.3 1249.2,539.8 1242.0,555.0 C1234.8,570.2 1236.5,564.7 1228.5,585.5 C1220.5,606.3 1224.2,595.4 1218.0,617.4 C1211.8,639.4 1215.1,627.3 1210.0,651.5 C1204.9,675.7 1207.0,667.2 1202.7,690.0 C1198.4,712.8 1200.2,703.2 1197.0,720.0 C1193.8,736.8 1196.1,720.1 1193.2,740.3 C1190.3,760.5 1190.2,757.1 1188.2,780.5 C1186.2,803.9 1185.5,793.9 1187.2,810.6 C1188.9,827.3 1186.8,819.0 1193.2,830.7 C1199.6,842.4 1197.2,839.1 1206.3,845.8 C1215.4,852.5 1209.0,850.5 1220.4,850.8 C1231.8,851.1 1223.8,850.5 1240.5,846.8 C1257.2,843.1 1249.5,845.1 1270.6,839.7 C1291.7,834.3 1283.7,837.7 1303.8,830.7 C1323.9,823.7 1315.2,827.3 1330.9,818.6 C1346.6,809.9 1337.6,816.0 1351.0,804.6 C1364.4,793.2 1359.0,798.6 1371.1,784.5 C1383.2,770.4 1377.8,777.9 1387.2,762.4 C1396.6,746.9 1390.3,756.1 1399.2,738.0 C1408.1,719.9 1404.4,726.7 1414.0,708.0 C1423.6,689.3 1418.7,699.0 1428.0,682.0 C1437.3,665.0 1432.8,673.2 1442.0,657.0 C1451.2,640.8 1448.0,648.5 1455.7,633.5 C1463.4,618.5 1458.6,625.7 1465.0,612.0 C1471.4,598.3 1467.5,604.3 1475.0,592.5 C1482.5,580.7 1478.2,586.4 1487.5,576.6 C1496.8,566.8 1494.2,569.9 1503.0,563.0 C1511.8,556.1 1508.7,560.3 1514.0,556.0 C1519.3,551.7 1517.3,552.0 1519.0,550.0" fill="none" stroke="#111" stroke-width="10.2" stroke-linejoin="round" />
<path d="M1259.0,521.0 C1256.0,527.3 1255.7,528.7 1250.0,540.0 C1244.3,551.3 1249.2,539.8 1242.0,555.0 C1234.8,570.2 1236.5,564.7 1228.5,585.5 C1220.5,606.3 1224.2,595.4 1218.0,617.4 C1211.8,639.4 1215.1,627.3 1210.0,651.5 C1204.9,675.7 1207.0,667.2 1202.7,690.0 C1198.4,712.8 1200.2,703.2 1197.0,720.0 C1193.8,736.8 1196.1,720.1 1193.2,740.3 C1190.3,760.5 1190.2,757.1 1188.2,780.5 C1186.2,803.9 1185.5,793.9 1187.2,810.6 C1188.9,827.3 1186.8,819.0 1193.2,830.7 C1199.6,842.4 1197.2,839.1 1206.3,845.8 C1215.4,852.5 1209.0,850.5 1220.4,850.8 C1231.8,851.1 1223.8,850.5 1240.5,846.8 C1257.2,843.1 1249.5,845.1 1270.6,839.7 C1291.7,834.3 1283.7,837.7 1303.8,830.7 C1323.9,823.7 1315.2,827.3 1330.9,818.6 C1346.6,809.9 1337.6,816.0 1351.0,804.6 C1364.4,793.2 1359.0,798.6 1371.1,784.5 C1383.2,770.4 1377.8,777.9 1387.2,762.4 C1396.6,746.9 1390.3,756.1 1399.2,738.0 C1408.1,719.9 1404.4,726.7 1414.0,708.0 C1423.6,689.3 1418.7,699.0 1428.0,682.0 C1437.3,665.0 1432.8,673.2 1442.0,657.0 C1451.2,640.8 1448.0,648.5 1455.7,633.5 C1463.4,618.5 1458.6,625.7 1465.0,612.0 C1471.4,598.3 1467.5,604.3 1475.0,592.5 C1482.5,580.7 1478.2,586.4 1487.5,576.6 C1496.8,566.8 1494.2,569.9 1503.0,563.0 C1511.8,556.1 1508.7,560.3 1514.0,556.0 C1519.3,551.7 1517.3,552.0 1519.0,550.0" fill="none" stroke="#fff" stroke-width="7.6" stroke-linejoin="round" />
<path d="M1259.0,521.0 C1256.0,527.3 1255.7,528.7 1250.0,540.0 C1244.3,551.3 1249.2,539.8 1242.0,555.0 C1234.8,570.2 1236.5,564.7 1228.5,585.5 C1220.5,606.3 1224.2,595.4 1218.0,617.4 C1211.8,639.4 1215.1,627.3 1210.0,651.5 C1204.9,675.7 1207.0,667.2 1202.7,690.0 C1198.4,712.8 1200.2,703.2 1197.0,720.0 C1193.8,736.8 1196.1,720.1 1193.2,740.3 C1190.3,760.5 1190.2,757.1 1188.2,780.5 C1186.2,803.9 1185.5,793.9 1187.2,810.6 C1188.9,827.3 1186.8,819.0 1193.2,830.7 C1199.6,842.4 1197.2,839.1 1206.3,845.8 C1215.4,852.5 1209.0,850.5 1220.4,850.8 C1231.8,851.1 1223.8,850.5 1240.5,846.8 C1257.2,843.1 1249.5,845.1 1270.6,839.7 C1291.7,834.3 1283.7,837.7 1303.8,830.7 C1323.9,823.7 1315.2,827.3 1330.9,818.6 C1346.6,809.9 1337.6,816.0 1351.0,804.6 C1364.4,793.2 1359.0,798.6 1371.1,784.5 C1383.2,770.4 1377.8,777.9 1387.2,762.4 C1396.6,746.9 1390.3,756.1 1399.2,738.0 C1408.1,719.9 1404.4,726.7 1414.0,708.0 C1423.6,689.3 1418.7,699.0 1428.0,682.0 C1437.3,665.0 1432.8,673.2 1442.0,657.0 C1451.2,640.8 1448.0,648.5 1455.7,633.5 C1463.4,618.5 1458.6,625.7 1465.0,612.0 C1471.4,598.3 1467.5,604.3 1475.0,592.5 C1482.5,580.7 1478.2,586.4 1487.5,576.6 C1496.8,566.8 1494.2,569.9 1503.0,563.0 C1511.8,556.1 1508.7,560.3 1514.0,556.0 C1519.3,551.7 1517.3,552.0 1519.0,550.0" fill="none" stroke="#111" stroke-width="4.4" stroke-linejoin="round" />
<path d="M1259.0,521.0 C1256.0,527.3 1255.7,528.7 1250.0,540.0 C1244.3,551.3 1249.2,539.8 1242.0,555.0 C1234.8,570.2 1236.5,564.7 1228.5,585.5 C1220.5,606.3 1224.2,595.4 1218.0,617.4 C1211.8,639.4 1215.1,627.3 1210.0,651.5 C1204.9,675.7 1207.0,667.2 1202.7,690.0 C1198.4,712.8 1200.2,703.2 1197.0,720.0 C1193.8,736.8 1196.1,720.1 1193.2,740.3 C1190.3,760.5 1190.2,757.1 1188.2,780.5 C1186.2,803.9 1185.5,793.9 1187.2,810.6 C1188.9,827.3 1186.8,819.0 1193.2,830.7 C1199.6,842.4 1197.2,839.1 1206.3,845.8 C1215.4,852.5 1209.0,850.5 1220.4,850.8 C1231.8,851.1 1223.8,850.5 1240.5,846.8 C1257.2,843.1 1249.5,845.1 1270.6,839.7 C1291.7,834.3 1283.7,837.7 1303.8,830.7 C1323.9,823.7 1315.2,827.3 1330.9,818.6 C1346.6,809.9 1337.6,816.0 1351.0,804.6 C1364.4,793.2 1359.0,798.6 1371.1,784.5 C1383.2,770.4 1377.8,777.9 1387.2,762.4 C1396.6,746.9 1390.3,756.1 1399.2,738.0 C1408.1,719.9 1404.4,726.7 1414.0,708.0 C1423.6,689.3 1418.7,699.0 1428.0,682.0 C1437.3,665.0 1432.8,673.2 1442.0,657.0 C1451.2,640.8 1448.0,648.5 1455.7,633.5 C1463.4,618.5 1458.6,625.7 1465.0,612.0 C1471.4,598.3 1467.5,604.3 1475.0,592.5 C1482.5,580.7 1478.2,586.4 1487.5,576.6 C1496.8,566.8 1494.2,569.9 1503.0,563.0 C1511.8,556.1 1508.7,560.3 1514.0,556.0 C1519.3,551.7 1517.3,552.0 1519.0,550.0" fill="none" stroke="#fff" stroke-width="2.2" stroke-linejoin="round" />
<path class="o" d="M1248.6,505.0 C1265.7,500.7 1266.2,500.0 1300.0,492.0 C1333.8,484.0 1319.3,487.3 1350.0,481.0 C1380.7,474.7 1362.8,477.5 1392.0,473.0 C1421.2,468.5 1407.2,469.3 1437.5,467.4 C1467.8,465.5 1457.2,465.5 1483.0,467.4 C1508.8,469.3 1494.7,468.5 1515.0,473.0 C1535.3,477.5 1534.3,478.3 1544.0,481.0" />
<path class="t" d="M1251.3,507.1 C1267.5,503.1 1267.1,502.6 1300.0,495.0 C1332.9,487.4 1319.3,490.5 1350.0,484.2 C1380.7,477.9 1363.3,480.7 1392.0,476.2 C1420.7,471.7 1407.2,472.7 1436.0,470.7 C1464.8,468.8 1453.4,468.8 1478.4,470.3 C1503.4,471.9 1490.0,471.1 1511.0,475.4 C1532.0,479.7 1531.3,480.7 1541.4,483.3" />
<path class="t" d="M1254.0,509.2 C1269.3,505.5 1268.0,505.3 1300.0,498.0 C1332.0,490.7 1319.3,493.6 1350.0,487.4 C1380.7,481.2 1363.8,483.9 1392.0,479.4 C1420.2,474.9 1407.2,476.1 1434.5,474.0 C1461.8,472.0 1449.6,472.0 1473.8,473.2 C1498.0,474.5 1485.3,473.7 1507.0,477.8 C1528.7,481.9 1528.2,483.0 1538.8,485.6" />
<path class="t" d="M1256.6,511.3 C1271.1,507.9 1268.9,507.9 1300.0,501.0 C1331.1,494.1 1319.3,496.7 1350.0,490.6 C1380.7,484.5 1364.3,487.0 1392.0,482.6 C1419.7,478.2 1407.3,479.5 1433.0,477.4 C1458.7,475.2 1445.9,475.2 1469.2,476.2 C1492.5,477.1 1480.7,476.3 1503.0,480.2 C1525.3,484.1 1525.1,485.3 1536.2,487.8" />
<path class="t" d="M1259.3,513.4 C1272.9,510.3 1269.8,510.5 1300.0,504.0 C1330.2,497.5 1319.3,499.9 1350.0,493.8 C1380.7,487.7 1364.8,490.2 1392.0,485.8 C1419.2,481.4 1407.3,482.9 1431.5,480.7 C1455.7,478.4 1442.1,478.4 1464.6,479.1 C1487.1,479.7 1476.0,478.9 1499.0,482.6 C1522.0,486.3 1522.1,487.6 1533.6,490.1" />
<path class="o" d="M1262.0,515.5 C1274.7,512.7 1270.7,513.2 1300.0,507.0 C1329.3,500.8 1319.3,503.0 1350.0,497.0 C1380.7,491.0 1365.3,493.3 1392.0,489.0 C1418.7,484.7 1407.3,486.3 1430.0,484.0 C1452.7,481.7 1438.3,481.7 1460.0,482.0 C1481.7,482.3 1471.3,481.5 1495.0,485.0 C1518.7,488.5 1519.0,489.9 1531.0,492.4" />
<path class="o" d="M1544.0,481.0 L1531.0,492.4" />
<path d="M1538.0,486.0 C1536.7,491.3 1537.0,491.7 1534.0,502.0 C1531.0,512.3 1532.3,507.3 1529.0,517.0 C1525.7,526.7 1527.3,520.0 1524.0,531.0 C1520.7,542.0 1520.7,543.7 1519.0,550.0" fill="none" stroke="#111" stroke-width="10.2" stroke-linejoin="round" />
<path d="M1538.0,486.0 C1536.7,491.3 1537.0,491.7 1534.0,502.0 C1531.0,512.3 1532.3,507.3 1529.0,517.0 C1525.7,526.7 1527.3,520.0 1524.0,531.0 C1520.7,542.0 1520.7,543.7 1519.0,550.0" fill="none" stroke="#fff" stroke-width="7.6" stroke-linejoin="round" />
<path d="M1538.0,486.0 C1536.7,491.3 1537.0,491.7 1534.0,502.0 C1531.0,512.3 1532.3,507.3 1529.0,517.0 C1525.7,526.7 1527.3,520.0 1524.0,531.0 C1520.7,542.0 1520.7,543.7 1519.0,550.0" fill="none" stroke="#111" stroke-width="4.4" stroke-linejoin="round" />
<path d="M1538.0,486.0 C1536.7,491.3 1537.0,491.7 1534.0,502.0 C1531.0,512.3 1532.3,507.3 1529.0,517.0 C1525.7,526.7 1527.3,520.0 1524.0,531.0 C1520.7,542.0 1520.7,543.7 1519.0,550.0" fill="none" stroke="#fff" stroke-width="2.2" stroke-linejoin="round" />
<path class="wf" d="M1242.2,517.3 L1248.6,505.0 L1262.0,510.0 L1250.5,528.0 Z" />
<path class="t" d="M1247.0,515.0 L1256.0,512.5" />
<path class="d" d="M1227.4,574.2 C1221.6,575.1 1213.0,571.5 1205.7,577.6 C1198.4,583.7 1202.4,588.8 1200.0,597.0 C1197.6,605.2 1199.8,594.2 1196.6,608.3 C1193.4,622.4 1192.4,626.6 1188.0,650.0 C1183.6,673.4 1184.2,674.1 1180.2,696.0 C1176.2,717.9 1176.6,712.4 1173.1,732.2 C1169.6,752.0 1169.2,751.6 1167.1,770.4 C1165.0,789.2 1165.6,787.1 1165.1,802.6 C1164.6,818.1 1163.8,819.1 1165.1,828.7 C1166.4,838.3 1166.1,832.0 1170.1,838.7 C1174.1,845.4 1174.1,846.5 1180.0,854.0 C1185.9,861.5 1184.1,860.8 1192.2,866.9 C1200.3,873.0 1200.1,873.4 1210.3,876.9 C1220.5,880.4 1219.9,880.8 1230.4,880.0 C1240.9,879.2 1238.4,877.1 1249.5,873.9 C1260.6,870.7 1259.7,871.2 1272.0,868.0 C1284.3,864.8 1289.4,863.5 1295.7,861.9" />
<path class="d" d="M1312.8,856.8 C1320.9,852.2 1330.4,847.9 1343.0,839.7 C1355.6,831.5 1350.9,833.8 1360.0,826.0 C1369.1,818.2 1367.2,821.1 1377.1,810.6 C1387.0,800.1 1391.8,792.9 1397.2,786.5" />
<path class="d" d="M1406.3,767.4 L1420.0,742.0 L1431.4,722.2 L1446.5,698.0 L1452.0,686.0 L1487.6,638.0 L1510.3,592.5 L1489.8,584.5" />
<path class="d" d="M1200.0,595.8 L1218.3,592.4" />
<path class="d" d="M1179.6,696.0 L1196.6,692.5" />
<path class="d" d="M1173.1,732.2 L1190.2,730.2" />
<path class="d" d="M1166.1,784.5 L1183.2,781.5" />
<path class="d" d="M1165.1,828.7 L1184.2,823.7" />
<path class="d" d="M1192.2,866.9 L1199.2,851.8" />
<path class="d" d="M1249.9,874.3 L1249.9,854.8" />
<path class="d" d="M1295.7,861.9 L1295.7,840.8" />
<path class="d" d="M1343.0,839.7 L1338.9,824.7" />
<path class="d" d="M1377.1,810.6 L1368.1,799.5" />
<path class="d" d="M1394.2,755.3 L1398.2,759.3" />
<path class="d" d="M1417.3,713.1 L1431.4,722.2" />
<path class="d" d="M1467.0,633.0 L1482.6,641.5" />
<path class="d" d="M1440.5,673.4 L1452.0,685.0" />
<path class="d" d="M1258.0,546.9 L1287.7,562.8 L1252.4,669.7 L1222.8,653.8" />
<path class="d" d="M1227.4,624.2 L1252.4,636.8 L1275.0,652.7" />
<path class="d" d="M1275,652.7 Q1289,658.5 1302.4,651.5" />
<path class="d" d="M1252.4,636.0 L1252.4,669.7" />
<path class="d" d="M1249.9,854.8 L1249.9,918.0" />
<ellipse class="wf" cx="1309.0" cy="650.0" rx="3.8" ry="8.5" transform="rotate(-8 1309.0 650.0)"/>
<path class="wf" d="M1312.0,645.5 L1324.0,646.5 L1325.5,651.0 L1318.0,655.0 L1312.0,654.5 Z" />
<path class="t" d="M1318.0,646.0 L1319.0,654.5" />
<ellipse class="t" cx="1309.0" cy="650.0" rx="1.6" ry="4.5" transform="rotate(-8 1309.0 650.0)"/>
<ellipse class="wf" cx="1480.3" cy="408.2" rx="8.3" ry="4.3" transform="rotate(-5 1480.3 408.2)"/>
<path class="wf" d="M1476.5,412.0 L1484.5,412.0 L1484.0,424.0 L1479.5,425.0 Z" />
<path class="t" d="M1477.5,416.0 L1484.3,417.5" />
<path class="t" d="M1478.0,420.0 L1484.2,421.0" />
<path class="d" d="M1483.0,431.0 L1503.5,544.7" />
<path class="wf" d="M1433.0,540.0 L1441.0,538.0 L1446.0,541.0 L1453.0,538.5 L1455.0,545.0 L1449.0,548.0 L1448.0,554.0 L1441.0,553.0 L1438.0,546.0 Z" />
<path class="t" d="M1441.0,542.0 L1447.0,551.0" />
<path class="t" d="M1444.0,540.0 L1450.0,546.0" />
<path class="d" d="M1454.6,550.4 L1486.4,564.0" />
<path class="wf" d="M1501.0,548.0 L1507.0,536.0 L1516.0,524.0 L1519.0,529.0 L1513.0,540.0 L1508.0,552.0 Z" />
<path class="t" d="M1505.0,546.0 L1514.0,531.0" />
<path class="t" d="M1503.0,542.0 L1509.0,544.0" />
<path class="t" d="M1507.5,535.5 L1512.0,538.5" />
<path class="wf" d="M1244.5,929.0 L1246.3,920.5 L1251.7,920.0 L1253.5,929.0 Z" />
<path class="wf" d="M1239.5,936.0 L1243.0,928.0 L1256.0,927.0 L1259.5,932.5 L1252.0,940.5 L1242.0,941.0 Z" />
<path class="t" d="M1243.0,934.5 L1256.0,931.5" />
<g class="door">
<path class="o" d="M798.8,449.4 C796.2,457.9 795.4,458.1 791.0,475.0 C786.6,491.9 788.5,478.3 785.5,500.0 C782.5,521.7 783.3,515.0 782.0,540.0 C780.7,565.0 781.0,551.7 781.5,575.0 C782.0,598.3 781.3,586.7 783.5,610.0 C785.7,633.3 784.5,620.5 788.0,645.0 C791.5,669.5 792.0,670.7 794.0,683.5" />
<path class="t" d="M801.0,452.0 C798.5,460.0 797.8,459.7 793.5,476.0 C789.2,492.3 791.0,479.7 788.0,501.0 C785.0,522.3 785.9,515.3 784.6,540.0 C783.3,564.7 783.7,551.7 784.2,575.0 C784.7,598.3 783.9,586.7 786.0,610.0 C788.1,633.3 787.2,623.0 790.5,645.0 C793.8,667.0 794.2,665.7 796.0,676.0" />
<path class="o" d="M798.8,449.4 L808.0,440.0 L819.3,431.4 L825.0,431.0 L826.5,426.5 L833.0,424.5 L834.5,428.0 L907.8,404.4 L925.0,399.5" />
<path class="t" d="M804.6,446.1 L906.1,415.0 L921.0,410.5" />
<path class="o" d="M794.0,683.5 L853.0,669.8" />
<path class="t" d="M796.0,676.0 L851.0,663.5" />
<path d="M939.0,349.0 C937.3,354.6 939.7,353.6 934.0,365.9 C928.3,378.2 929.7,372.9 922.0,386.0 C914.3,399.1 917.3,392.2 911.0,405.2 C904.7,418.2 907.3,414.1 903.0,425.0 C898.7,435.9 903.0,424.9 898.0,438.0 C893.0,451.1 891.4,455.5 888.1,464.2" fill="none" stroke="#111" stroke-width="3.4" stroke-linejoin="round" stroke-linecap="butt"/>
<path d="M939.0,349.0 C937.3,354.6 939.7,353.6 934.0,365.9 C928.3,378.2 929.7,372.9 922.0,386.0 C914.3,399.1 917.3,392.2 911.0,405.2 C904.7,418.2 907.3,414.1 903.0,425.0 C898.7,435.9 903.0,424.9 898.0,438.0 C893.0,451.1 891.4,455.5 888.1,464.2" fill="none" stroke="#fff" stroke-width="1.1" stroke-linejoin="round" stroke-linecap="butt"/>
<path class="o" d="M942.2,352.8 L960.2,342.9 L975.0,356.0" />
<path class="o" d="M942.2,352.8 L934.0,365.9" />
<path class="t" d="M945.5,356.0 L911.0,470.7" />
<path class="t" d="M950.4,357.7 L919.3,460.9" />
<path class="t" d="M958.6,361.0 L925.8,462.5" />
<path class="t" d="M965.1,364.2 L928.3,467.4" />
<path class="t" d="M970.0,357.7 L939.7,423.2" />
<path class="t" d="M947.9,366.0 L956.0,369.1" />
<path class="t" d="M945.4,374.2 L953.4,377.2" />
<path class="t" d="M934.8,409.3 L942.2,411.8" />
<path class="t" d="M932.4,417.6 L939.6,419.9" />
<path class="t" d="M929.9,425.8 L937.0,428.0" />
<path class="t" d="M927.4,434.1 L934.3,436.1" />
<path class="f" d="M947.0,349.0 L953.0,347.0 L956.0,355.0 L950.0,358.0 Z" />
<path d="M965.0,349.0 C987.0,343.6 984.0,343.2 1031.0,332.8 C1078.0,322.4 1066.0,324.5 1106.0,317.8 C1146.0,311.1 1125.8,314.2 1151.0,312.8 C1176.2,311.4 1161.2,311.7 1181.5,313.6 C1201.8,315.5 1193.0,314.2 1212.0,318.5 C1231.0,322.8 1229.7,323.8 1238.6,326.5" fill="none" stroke="#333" stroke-width="8" stroke-dasharray="0.9 3.6"/>
<path class="o" d="M960.4,341.6 C983.9,336.1 982.3,335.7 1030.8,325.2 C1079.3,314.7 1065.9,316.7 1106.0,310.0 C1146.1,303.3 1125.8,306.7 1151.0,305.0 C1176.2,303.3 1160.5,303.3 1181.5,305.0 C1202.5,306.7 1193.9,305.3 1214.0,310.0 C1234.1,314.7 1232.5,316.0 1241.8,319.0" />
<path class="t" d="M962.5,345.5 C985.3,340.0 983.2,339.5 1031.0,329.0 C1078.8,318.5 1066.0,320.7 1106.0,314.0 C1146.0,307.3 1125.8,310.5 1151.0,308.8 C1176.2,307.1 1160.8,307.1 1181.5,308.8 C1202.2,310.5 1193.4,309.1 1213.0,313.8 C1232.6,318.5 1231.2,319.8 1240.3,322.8" />
<path class="t" d="M965.0,349.0 C987.0,343.6 984.0,343.2 1031.0,332.8 C1078.0,322.4 1066.0,324.5 1106.0,317.8 C1146.0,311.1 1125.8,314.2 1151.0,312.8 C1176.2,311.4 1161.2,311.7 1181.5,313.6 C1201.8,315.5 1193.0,314.2 1212.0,318.5 C1231.0,322.8 1229.7,323.8 1238.6,326.5" />
<path class="t" d="M971.0,354.5 C991.0,349.2 986.0,348.6 1031.0,338.5 C1076.0,328.4 1066.0,330.3 1106.0,324.3 C1146.0,318.3 1125.8,321.4 1151.0,320.5 C1176.2,319.6 1161.8,319.5 1181.5,321.5 C1201.2,323.5 1192.5,322.7 1210.0,326.5 C1227.5,330.3 1226.0,330.8 1234.0,333.0" />
<path class="o" d="M981.0,356.0 C997.7,351.5 989.3,351.9 1031.0,342.5 C1072.7,333.1 1066.0,333.9 1106.0,327.7 C1146.0,321.5 1124.2,324.8 1151.0,324.0 C1177.8,323.2 1166.8,323.2 1186.5,325.2 C1206.2,327.2 1195.3,326.2 1210.0,330.0 C1224.7,333.8 1223.7,334.3 1230.5,336.5" />
<path class="t" d="M1030.0,327.5 L1040.0,325.3" />
<path class="t" d="M1095.0,315.1 L1105.0,312.9" />
<path class="t" d="M1160.0,302.8 L1170.0,300.6" />
<path class="o" d="M1241.8,319.5 C1238.9,328.0 1238.3,329.8 1233.0,345.0 C1227.7,360.2 1230.6,353.2 1226.0,365.0 C1221.4,376.8 1221.5,375.3 1219.2,380.5" />
<path d="M1237,327 L1221,377" fill="none" stroke="#222" stroke-width="7" stroke-dasharray="1.1 3.4"/>
<path class="t" d="M1236.0,330.0 L1222.5,373.0" />
<path class="o" d="M1230.5,336.5 L1216.7,376.7" />
<path class="o" d="M930.3,461.0 L1000.0,440.0 L1100.0,407.5 L1185.3,380.5 L1216.7,380.5" />
<path class="o" d="M940.5,451.0 L1040.5,421.6 L1110.0,400.0 L1183.0,377.5" />
<path class="t" d="M938.0,456.0 L1040.5,426.0 L1112.0,403.5 L1184.0,380.0" />
<path class="o" d="M925.2,473.5 L1000.0,452.0 L1105.0,419.0 L1194.0,390.6" />
<path class="t" d="M943.8,464.2 L1040.5,437.0 L1110.0,414.5" />
<path class="t" d="M945.0,450.5 L948.0,455.0" />
<path class="t" d="M955.9,447.2 L958.9,451.7" />
<path class="t" d="M966.7,443.9 L969.7,448.4" />
<path class="t" d="M977.6,440.6 L980.6,445.1" />
<path class="t" d="M988.5,437.3 L991.5,441.8" />
<path class="t" d="M999.3,434.0 L1002.3,438.5" />
<path class="t" d="M1010.2,430.7 L1013.2,435.2" />
<path class="t" d="M1021.1,427.4 L1024.1,431.9" />
<path class="t" d="M1031.9,424.1 L1034.9,428.6" />
<path class="t" d="M1042.8,420.8 L1045.8,425.3" />
<path class="t" d="M1053.7,417.5 L1056.7,422.0" />
<path class="t" d="M1064.5,414.2 L1067.5,418.7" />
<path class="t" d="M1075.4,410.9 L1078.4,415.4" />
<path class="t" d="M1086.3,407.6 L1089.3,412.1" />
<path class="t" d="M1097.1,404.3 L1100.1,408.8" />
<path class="t" d="M990.0,446.5 L998.0,444.1 L998.0,450.1 L990.0,452.5 Z" />
<path class="t" d="M1004.4,442.2 L1012.4,439.9 L1012.4,445.9 L1004.4,448.2 Z" />
<path class="t" d="M1018.8,438.0 L1026.8,435.6 L1026.8,441.6 L1018.8,444.0 Z" />
<path class="t" d="M1033.1,433.8 L1041.1,431.4 L1041.1,437.4 L1033.1,439.8 Z" />
<path class="t" d="M1047.5,429.5 L1055.5,427.1 L1055.5,433.1 L1047.5,435.5 Z" />
<path class="t" d="M1061.9,425.2 L1069.9,422.9 L1069.9,428.9 L1061.9,431.2 Z" />
<path class="t" d="M1076.2,421.0 L1084.2,418.6 L1084.2,424.6 L1076.2,427.0 Z" />
<path class="t" d="M1090.6,416.8 L1098.6,414.4 L1098.6,420.4 L1090.6,422.8 Z" />
<path class="f" d="M1118.0,402.0 L1150.0,391.0 L1182.0,382.0 L1184.0,386.0 L1152.0,396.0 L1120.0,407.0 Z" />
<path class="f" d="M1196.0,388.0 L1213.0,381.5 L1216.0,384.0 L1200.0,391.5 Z" />
<path class="o" d="M983.0,384.3 L1161.4,330.3" />
<path class="t" d="M957.9,400.6 L1156.4,345.3" />
<path class="t" d="M966.0,389.5 L1158.0,334.5" />
<path class="o" d="M1162.7,331.5 L1117.4,396.8" />
<path class="t" d="M1162.7,331.5 L1159.0,345.0" />
<path class="t" d="M951.0,412.0 L1075.0,377.0" />
<path class="t" d="M1090.0,373.0 L1140.0,359.0" />
<ellipse class="o" cx="1059.6" cy="393.0" rx="19.5" ry="16" transform="rotate(-17 1059.6 393.0)"/>
<ellipse class="t" cx="1059.6" cy="393.0" rx="17.5" ry="14" transform="rotate(-17 1059.6 393.0)"/>
<path class="o" d="M1041.0,397.0 L1022.0,401.0 L1016.0,407.5 L1024.0,410.5 L1041.0,406.5" />
<path class="t" d="M1038.0,399.5 L1026.0,402.5 L1022.0,406.5 L1038.0,404.0" />
<path class="o" d="M1077.0,383.5 L1098.0,376.0 L1104.0,377.5 L1100.0,385.5 L1079.0,392.0" />
<path class="t" d="M1080.0,385.5 L1097.0,380.0 L1095.0,384.5 L1081.0,389.0" />
<path d="M1219.2,380.5 C1214.8,386.3 1214.4,386.3 1206.0,398.0 C1197.6,409.7 1201.0,403.0 1194.0,415.7 C1187.0,428.4 1190.8,422.6 1185.0,436.0 C1179.2,449.4 1182.8,441.9 1176.5,455.9 C1170.2,469.9 1172.5,464.1 1166.0,478.0 C1159.5,491.9 1164.3,484.7 1157.0,497.7 C1149.7,510.7 1152.4,504.4 1144.0,517.0 C1135.6,529.6 1140.1,523.1 1131.8,535.4 C1123.5,547.7 1126.3,542.4 1119.0,553.9 C1111.7,565.4 1115.0,561.1 1110.0,570.0 C1105.0,578.9 1108.0,571.6 1104.0,580.6 C1100.0,589.6 1101.3,586.9 1098.0,597.0 C1094.7,607.1 1097.3,601.5 1094.0,610.8 C1090.7,620.1 1092.2,616.6 1088.0,625.0 C1083.8,633.4 1087.8,627.2 1081.5,635.9 C1075.2,644.6 1073.2,646.0 1069.0,651.0" fill="none" stroke="#111" stroke-width="3.9" stroke-linejoin="round" stroke-linecap="butt"/>
<path d="M1219.2,380.5 C1214.8,386.3 1214.4,386.3 1206.0,398.0 C1197.6,409.7 1201.0,403.0 1194.0,415.7 C1187.0,428.4 1190.8,422.6 1185.0,436.0 C1179.2,449.4 1182.8,441.9 1176.5,455.9 C1170.2,469.9 1172.5,464.1 1166.0,478.0 C1159.5,491.9 1164.3,484.7 1157.0,497.7 C1149.7,510.7 1152.4,504.4 1144.0,517.0 C1135.6,529.6 1140.1,523.1 1131.8,535.4 C1123.5,547.7 1126.3,542.4 1119.0,553.9 C1111.7,565.4 1115.0,561.1 1110.0,570.0 C1105.0,578.9 1108.0,571.6 1104.0,580.6 C1100.0,589.6 1101.3,586.9 1098.0,597.0 C1094.7,607.1 1097.3,601.5 1094.0,610.8 C1090.7,620.1 1092.2,616.6 1088.0,625.0 C1083.8,633.4 1087.8,627.2 1081.5,635.9 C1075.2,644.6 1073.2,646.0 1069.0,651.0" fill="none" stroke="#fff" stroke-width="1.3" stroke-linejoin="round" stroke-linecap="butt"/>
<path class="t" d="M1200.5,396.0 C1196.5,401.9 1195.5,401.0 1188.5,413.7 C1181.5,426.4 1185.3,420.6 1179.5,434.0 C1173.7,447.4 1177.3,439.9 1171.0,453.9 C1164.7,467.9 1167.0,462.1 1160.5,476.0 C1154.0,489.9 1158.8,482.7 1151.5,495.7 C1144.2,508.7 1146.9,502.4 1138.5,515.0 C1130.1,527.6 1134.6,521.1 1126.3,533.4 C1118.0,545.7 1120.8,540.4 1113.5,551.9 C1106.2,563.4 1109.5,559.1 1104.5,568.0 C1099.5,576.9 1102.5,569.6 1098.5,578.6 C1094.5,587.6 1095.8,584.9 1092.5,595.0 C1089.2,605.1 1091.8,599.5 1088.5,608.8 C1085.2,618.1 1086.7,614.6 1082.5,623.0 C1078.3,631.4 1078.2,630.3 1076.0,633.9" />
<path class="t" d="M1182.5,411.7 C1179.5,418.5 1179.3,418.6 1173.5,432.0 C1167.7,445.4 1171.3,437.9 1165.0,451.9 C1158.7,465.9 1161.0,460.1 1154.5,474.0 C1148.0,487.9 1152.8,480.7 1145.5,493.7 C1138.2,506.7 1140.9,500.4 1132.5,513.0 C1124.1,525.6 1128.6,519.1 1120.3,531.4 C1112.0,543.7 1114.8,538.4 1107.5,549.9 C1100.2,561.4 1103.5,557.1 1098.5,566.0 C1093.5,574.9 1096.5,567.6 1092.5,576.6 C1088.5,585.6 1089.8,582.9 1086.5,593.0 C1083.2,603.1 1085.8,597.5 1082.5,606.8 C1079.2,616.1 1080.7,612.6 1076.5,621.0 C1072.3,629.4 1072.2,628.3 1070.0,631.9" />
<path class="t" d="M1157.5,449.9 C1154.0,457.3 1153.5,458.1 1147.0,472.0 C1140.5,485.9 1145.3,478.7 1138.0,491.7 C1130.7,504.7 1133.4,498.4 1125.0,511.0 C1116.6,523.6 1121.1,517.1 1112.8,529.4 C1104.5,541.7 1107.3,536.4 1100.0,547.9 C1092.7,559.4 1096.0,555.1 1091.0,564.0 C1086.0,572.9 1089.0,565.6 1085.0,574.6 C1081.0,583.6 1082.3,580.9 1079.0,591.0 C1075.7,601.1 1078.3,595.5 1075.0,604.8 C1071.7,614.1 1071.0,614.3 1069.0,619.0" />
<path d="M855.4,718.8 L1038.8,663.5 L1069.0,651.0" fill="none" stroke="#111" stroke-width="3.9" stroke-linejoin="round" stroke-linecap="butt"/>
<path d="M855.4,718.8 L1038.8,663.5 L1069.0,651.0" fill="none" stroke="#fff" stroke-width="1.3" stroke-linejoin="round" stroke-linecap="butt"/>
<path class="o" d="M855.4,711.3 L1036.3,657.2 L1064.0,646.0" />
<path class="t" d="M857.0,715.0 L1037.5,660.3" />
<path class="t" d="M880.5,701.2 L1031.3,654.0" />
<path class="t" d="M868.0,701.0 L1020.0,653.5" />
<path d="M863.0,485.0 C859.6,493.4 858.0,489.3 852.9,510.3 C847.8,531.3 850.2,522.9 847.8,548.0 C845.4,573.1 846.2,564.7 845.8,585.6 C845.4,606.5 845.1,589.8 846.6,610.8 C848.1,631.8 848.3,627.6 850.4,648.5 C852.5,669.4 851.7,656.9 852.9,673.6 C854.1,690.3 853.3,683.6 854.1,698.7 C854.9,713.8 855.0,712.1 855.4,718.8" fill="none" stroke="#111" stroke-width="3.9" stroke-linejoin="round" stroke-linecap="butt"/>
<path d="M863.0,485.0 C859.6,493.4 858.0,489.3 852.9,510.3 C847.8,531.3 850.2,522.9 847.8,548.0 C845.4,573.1 846.2,564.7 845.8,585.6 C845.4,606.5 845.1,589.8 846.6,610.8 C848.1,631.8 848.3,627.6 850.4,648.5 C852.5,669.4 851.7,656.9 852.9,673.6 C854.1,690.3 853.3,683.6 854.1,698.7 C854.9,713.8 855.0,712.1 855.4,718.8" fill="none" stroke="#fff" stroke-width="1.3" stroke-linejoin="round" stroke-linecap="butt"/>
<path class="t" d="M870.5,485.0 C867.3,495.0 865.2,494.0 861.0,515.0 C856.8,536.0 859.8,524.7 857.9,548.0 C856.0,571.3 856.2,564.1 855.4,585.0 C854.6,605.9 854.4,589.8 855.4,610.8 C856.4,631.8 856.0,627.1 858.5,648.0 C861.0,668.9 859.7,655.9 862.9,673.6 C866.1,691.3 866.3,691.9 868.0,701.0" />
<path class="t" d="M880.5,480.0 C878.0,493.3 875.8,493.3 873.0,520.0 C870.2,546.7 871.2,538.1 872.0,560.0 C872.8,581.9 874.8,565.6 875.5,585.6 C876.2,605.6 873.2,595.2 874.0,620.0 C874.8,644.8 874.7,636.7 878.0,660.0 C881.3,683.3 882.0,680.0 884.0,690.0" />
<path class="o" d="M863.0,485.0 C867.0,481.3 866.6,480.9 875.0,474.0 C883.4,467.1 883.7,467.5 888.1,464.2" />
<path class="t" d="M867.0,497.0 L890.0,487.0 L905.0,476.0" />
<ellipse class="o" cx="879.2" cy="568.0" rx="4.6" ry="11" transform="rotate(0 879.2 568.0)"/>
<ellipse class="t" cx="879.2" cy="568.0" rx="2.8" ry="8.5" transform="rotate(0 879.2 568.0)"/>
<path class="t" d="M900.0,576.0 L903.5,575.0 L904.0,595.0 L900.5,596.0 Z" />
<rect class="f" x="862.9" y="527.9" width="5" height="5"/>
<rect class="f" x="889.3" y="543.7" width="5" height="6"/>
<rect class="f" x="857.4" y="550.5" width="6" height="5"/>
<rect class="f" x="857.9" y="563.0" width="5" height="5"/>
<rect class="f" x="868.0" y="496.5" width="5" height="5"/>
<rect class="f" x="857.4" y="614.0" width="6" height="6"/>
<rect class="f" x="857.9" y="627.9" width="5" height="6"/>
<rect class="f" x="900.6" y="649.7" width="5" height="5"/>
<rect class="f" x="912.7" y="618.3" width="6" height="5"/>
<rect class="f" x="915.7" y="591.9" width="5" height="5"/>
<rect class="f" x="919.7" y="550.7" width="7" height="7"/>
<rect class="f" x="893.5" y="463.9" width="9" height="7"/>
<rect class="f" x="903.1" y="476.5" width="6" height="8"/>
<rect class="f" x="910.2" y="467.2" width="5" height="7"/>
<rect class="f" x="923.0" y="472.6" width="4" height="6"/>
<ellipse class="t" cx="882.0" cy="510.0" rx="1.6" ry="2.6" transform="rotate(0 882.0 510.0)"/>
<ellipse class="t" cx="882.0" cy="522.0" rx="1.6" ry="2.6" transform="rotate(0 882.0 522.0)"/>
<ellipse class="t" cx="880.0" cy="534.0" rx="1.6" ry="2.6" transform="rotate(0 880.0 534.0)"/>
<ellipse class="t" cx="871.0" cy="640.0" rx="1.6" ry="2.6" transform="rotate(0 871.0 640.0)"/>
<ellipse class="t" cx="871.0" cy="655.0" rx="1.6" ry="2.6" transform="rotate(0 871.0 655.0)"/>
<ellipse class="t" cx="872.0" cy="668.0" rx="1.6" ry="2.6" transform="rotate(0 872.0 668.0)"/>
<ellipse class="t" cx="866.0" cy="600.0" rx="1.6" ry="2.6" transform="rotate(0 866.0 600.0)"/>
<path class="t" d="M849.0,548.0 L886.0,538.0" />
<path class="t" d="M847.0,600.0 L900.0,587.0" />
<path d="M915.7,475.0 C912.1,503.3 910.9,506.3 905.0,560.0 C899.1,613.7 903.3,599.3 898.0,636.0 C892.7,672.7 894.8,652.0 889.0,670.0 C883.2,688.0 883.3,683.3 880.5,690.0" fill="none" stroke="#111" stroke-width="3.4" stroke-linejoin="round" stroke-linecap="butt"/>
<path d="M915.7,475.0 C912.1,503.3 910.9,506.3 905.0,560.0 C899.1,613.7 903.3,599.3 898.0,636.0 C892.7,672.7 894.8,652.0 889.0,670.0 C883.2,688.0 883.3,683.3 880.5,690.0" fill="none" stroke="#fff" stroke-width="1.1" stroke-linejoin="round" stroke-linecap="butt"/>
<path d="M923.2,475.0 C919.8,503.3 918.9,506.3 913.0,560.0 C907.1,613.7 910.9,598.7 905.6,636.0 C900.3,673.3 902.5,652.7 897.0,672.0 C891.5,691.3 891.7,686.7 889.0,694.0" fill="none" stroke="#111" stroke-width="3.4" stroke-linejoin="round" stroke-linecap="butt"/>
<path d="M923.2,475.0 C919.8,503.3 918.9,506.3 913.0,560.0 C907.1,613.7 910.9,598.7 905.6,636.0 C900.3,673.3 902.5,652.7 897.0,672.0 C891.5,691.3 891.7,686.7 889.0,694.0" fill="none" stroke="#fff" stroke-width="1.1" stroke-linejoin="round" stroke-linecap="butt"/>
<path class="t" d="M919.5,475.0 C916.0,503.3 914.9,506.3 909.0,560.0 C903.1,613.7 904.2,610.7 901.8,636.0" />
<path class="t" d="M931.0,472.0 C927.7,499.7 926.7,503.0 921.0,555.0 C915.3,607.0 916.3,603.7 914.0,628.0" />
<ellipse class="o" cx="944.6" cy="637.0" rx="23.5" ry="29.5" transform="rotate(18 944.6 637.0)"/>
<ellipse class="t" cx="944.6" cy="637.0" rx="25.8" ry="32" transform="rotate(18 944.6 637.0)"/>
<ellipse class="o" cx="944.6" cy="637.0" rx="32" ry="37" transform="rotate(18 944.6 637.0)"/>
<path class="o" d="M923.2,647.2 L968.4,635.9" />
<path class="t" d="M924.5,650.5 L966.0,640.0" />
<circle class="t" cx="953.4" cy="671.0" r="3.2" />
<circle class="t" cx="925.7" cy="680.0" r="3.2" />
<circle class="t" cx="917.0" cy="655.0" r="3.2" />
<circle class="t" cx="974.0" cy="610.0" r="3.2" />
<circle class="t" cx="972.0" cy="655.0" r="3.2" />
<circle class="t" cx="934.0" cy="603.0" r="3.2" />
<path class="t" d="M880.0,690.0 C888.3,688.7 888.3,686.0 905.0,686.0 C921.7,686.0 915.0,690.7 930.0,690.0 C945.0,689.3 943.3,686.0 950.0,684.0" />
<path class="t" d="M860.0,700.0 C864.0,696.7 862.7,692.7 872.0,690.0 C881.3,687.3 878.7,688.7 888.0,692.0 C897.3,695.3 886.0,699.3 900.0,700.0 C914.0,700.7 920.0,696.0 930.0,694.0" />
<path class="t" d="M905.0,664.0 L911.0,661.0 L914.0,668.0 L908.0,672.0 Z" />
<circle class="t" cx="935.8" cy="527.8" r="5" />
<circle class="t" cx="935.8" cy="527.8" r="2.8" />
<circle class="t" cx="935.8" cy="555.5" r="6.5" />
<circle class="t" cx="935.8" cy="555.5" r="4.3" />
<circle class="t" cx="959.6" cy="543.0" r="6" />
<circle class="t" cx="959.6" cy="543.0" r="3.8" />
<circle class="t" cx="960.9" cy="560.5" r="5" />
<circle class="t" cx="960.9" cy="560.5" r="2.8" />
<circle class="t" cx="948.3" cy="570.6" r="4.2" />
<circle class="t" cx="948.3" cy="570.6" r="2.0" />
<circle class="t" cx="927.0" cy="584.4" r="4" />
<circle class="t" cx="927.0" cy="584.4" r="1.7999999999999998" />
<circle class="t" cx="920.7" cy="604.5" r="4" />
<circle class="t" cx="920.7" cy="604.5" r="1.7999999999999998" />
<circle class="t" cx="955.9" cy="497.7" r="4.2" />
<circle class="t" cx="955.9" cy="497.7" r="2.0" />
<circle class="t" cx="1002.4" cy="499.0" r="4.2" />
<circle class="t" cx="1002.4" cy="499.0" r="2.0" />
<circle class="t" cx="1025.0" cy="485.0" r="4.2" />
<circle class="t" cx="1025.0" cy="485.0" r="2.0" />
<circle class="t" cx="989.8" cy="541.7" r="4.2" />
<circle class="t" cx="989.8" cy="541.7" r="2.0" />
<circle class="t" cx="992.3" cy="561.8" r="4.2" />
<circle class="t" cx="992.3" cy="561.8" r="2.0" />
<circle class="t" cx="987.3" cy="580.6" r="4.2" />
<circle class="t" cx="987.3" cy="580.6" r="2.0" />
<circle class="t" cx="1009.9" cy="535.4" r="4" />
<circle class="t" cx="1009.9" cy="535.4" r="1.7999999999999998" />
<circle class="t" cx="1066.4" cy="467.5" r="4" />
<circle class="t" cx="1066.4" cy="467.5" r="1.7999999999999998" />
<circle class="t" cx="1094.0" cy="488.9" r="5" />
<circle class="t" cx="1094.0" cy="488.9" r="2.8" />
<circle class="t" cx="1109.1" cy="497.7" r="5" />
<circle class="t" cx="1109.1" cy="497.7" r="2.8" />
<circle class="t" cx="1136.8" cy="483.9" r="4.2" />
<circle class="t" cx="1136.8" cy="483.9" r="2.0" />
<circle class="t" cx="1112.9" cy="541.7" r="5.2" />
<circle class="t" cx="1112.9" cy="541.7" r="3.0" />
<circle class="t" cx="1001.1" cy="630.9" r="6.5" />
<circle class="t" cx="1001.1" cy="630.9" r="4.3" />
<circle class="t" cx="1046.3" cy="620.8" r="5.5" />
<circle class="t" cx="1046.3" cy="620.8" r="3.3" />
<circle class="t" cx="1165.0" cy="432.0" r="6" />
<circle class="t" cx="1165.0" cy="432.0" r="3.8" />
<circle class="t" cx="1141.3" cy="450.9" r="6.5" />
<circle class="t" cx="1141.3" cy="450.9" r="4.3" />
<circle class="t" cx="1133.8" cy="437.0" r="5" />
<circle class="t" cx="1133.8" cy="437.0" r="2.8" />
<circle class="t" cx="958.4" cy="524.0" r="3" />
<circle class="t" cx="988.5" cy="481.4" r="3" />
<circle class="t" cx="1012.4" cy="658.5" r="3" />
<circle class="t" cx="1081.0" cy="600.0" r="3.2" />
<circle class="t" cx="1076.0" cy="625.0" r="3" />
<circle class="f" cx="1179.0" cy="448.3" r="5.5" />
<circle class="f" cx="1185.3" cy="430.8" r="3.6" />
<circle class="f" cx="1190.0" cy="425.7" r="3" />
<circle class="f" cx="1156.4" cy="417.0" r="3" />
<circle class="f" cx="1145.0" cy="423.2" r="3" />
<circle class="f" cx="1161.4" cy="445.8" r="3.2" />
<circle class="f" cx="1174.0" cy="425.7" r="2.6" />
<circle class="f" cx="929.0" cy="548.0" r="3.5" />
<circle class="f" cx="992.0" cy="556.0" r="3" />
<circle class="f" cx="989.0" cy="573.0" r="3" />
<path class="t" d="M928.0,520.0 C933.3,508.3 930.0,514.3 940.0,505.0 C950.0,495.7 948.0,496.3 958.0,492.0 C968.0,487.7 964.3,487.7 970.0,492.0 C975.7,496.3 974.3,492.3 975.0,505.0 C975.7,517.7 975.3,515.7 972.0,530.0 C968.7,544.3 964.0,537.3 965.0,548.0 C966.0,558.7 974.0,552.0 975.0,562.0 C976.0,572.0 976.3,571.3 968.0,578.0 C959.7,584.7 960.0,584.0 950.0,582.0 C940.0,580.0 946.0,577.3 938.0,572.0 C930.0,566.7 930.7,576.7 926.0,566.0 C921.3,555.3 923.3,555.3 924.0,540.0 C924.7,524.7 922.7,531.7 928.0,520.0 Z" />
<path class="t" d="M932.0,497.0 L946.0,490.0 L952.0,497.0 L945.0,510.0 L934.0,508.0 Z" />
<path d="M1027.5,512.8 C1048.0,515.3 1071.5,509.6 1089.0,520.3 C1106.5,531.0 1086.7,529.9 1080.0,545.0 C1073.3,560.1 1073.7,552.2 1069.0,565.5 C1064.3,578.8 1067.7,573.3 1066.0,585.0 C1064.3,596.7 1069.3,591.7 1064.0,600.7 C1058.7,609.7 1060.9,605.3 1050.0,612.0 C1039.1,618.7 1042.0,618.5 1031.3,620.8 C1020.6,623.1 1026.4,620.7 1018.0,619.0 C1009.6,617.3 1015.8,619.4 1006.0,615.8 C996.2,612.2 994.2,613.5 988.5,608.2 C982.8,602.9 988.2,605.1 989.0,600.0 C989.8,594.9 990.3,595.3 991.0,593.0" fill="none" stroke="#111" stroke-width="3.9" stroke-linejoin="round" stroke-linecap="butt"/>
<path d="M1027.5,512.8 C1048.0,515.3 1071.5,509.6 1089.0,520.3 C1106.5,531.0 1086.7,529.9 1080.0,545.0 C1073.3,560.1 1073.7,552.2 1069.0,565.5 C1064.3,578.8 1067.7,573.3 1066.0,585.0 C1064.3,596.7 1069.3,591.7 1064.0,600.7 C1058.7,609.7 1060.9,605.3 1050.0,612.0 C1039.1,618.7 1042.0,618.5 1031.3,620.8 C1020.6,623.1 1026.4,620.7 1018.0,619.0 C1009.6,617.3 1015.8,619.4 1006.0,615.8 C996.2,612.2 994.2,613.5 988.5,608.2 C982.8,602.9 988.2,605.1 989.0,600.0 C989.8,594.9 990.3,595.3 991.0,593.0" fill="none" stroke="#fff" stroke-width="1.3" stroke-linejoin="round" stroke-linecap="butt"/>
<path d="M991.0,593.0 C995.0,582.0 995.0,579.3 1003.0,560.0 C1011.0,540.7 1006.8,550.7 1015.0,535.0 C1023.2,519.3 1023.3,520.2 1027.5,512.8" fill="none" stroke="#111" stroke-width="3.9" stroke-linejoin="round" stroke-linecap="butt"/>
<path d="M991.0,593.0 C995.0,582.0 995.0,579.3 1003.0,560.0 C1011.0,540.7 1006.8,550.7 1015.0,535.0 C1023.2,519.3 1023.3,520.2 1027.5,512.8" fill="none" stroke="#fff" stroke-width="1.3" stroke-linejoin="round" stroke-linecap="butt"/>
<path class="o" d="M993.6,590.6 L1064.0,597.0" />
<path class="t" d="M995.0,596.0 L1062.0,602.0" />
<path class="t" d="M1033.8,532.9 L1016.2,585.6" />
<path d="M1055.9,455.9 L1121.2,445.8 L1128.7,455.9 L1123.7,481.0 L1098.6,501.1 L1053.4,481.0 Z" fill="none" stroke="#111" stroke-width="3.9" stroke-linejoin="round" stroke-linecap="butt"/>
<path d="M1055.9,455.9 L1121.2,445.8 L1128.7,455.9 L1123.7,481.0 L1098.6,501.1 L1053.4,481.0 Z" fill="none" stroke="#fff" stroke-width="1.3" stroke-linejoin="round" stroke-linecap="butt"/>
<path class="t" d="M1060.0,460.0 L1118.0,451.0 L1122.0,458.0 L1118.0,478.0 L1097.0,495.0 L1060.0,479.0 Z" />
<path class="t" d="M1056.0,470.0 C1067.3,472.7 1068.3,479.3 1090.0,478.0 C1111.7,476.7 1110.7,470.0 1121.0,466.0" />
<path class="o" d="M1030.0,505.0 L1092.0,512.0 L1100.0,500.0" />
<path class="t" d="M1028.0,500.0 L1060.0,470.0" />
<path class="t" d="M1024.0,516.0 L1086.0,524.0" />
<path class="t" d="M1035.0,527.0 L1085.0,533.0 L1088.0,522.0" />
<rect class="t" x="1052.5" y="525.0" width="5" height="5"/>
<rect class="t" x="1061.5" y="526.0" width="5" height="5"/>
<rect class="t" x="1070.5" y="527.0" width="5" height="5"/>
<path d="M1050.0,478.0 C1040.0,492.0 1038.3,489.3 1020.0,520.0 C1001.7,550.7 1006.7,539.3 995.0,570.0 C983.3,600.7 989.3,585.3 985.0,612.0 C980.7,638.7 982.3,628.7 982.0,650.0 C981.7,671.3 983.3,667.3 984.0,676.0" fill="none" stroke="#111" stroke-width="3.9" stroke-linejoin="round" stroke-linecap="butt"/>
<path d="M1050.0,478.0 C1040.0,492.0 1038.3,489.3 1020.0,520.0 C1001.7,550.7 1006.7,539.3 995.0,570.0 C983.3,600.7 989.3,585.3 985.0,612.0 C980.7,638.7 982.3,628.7 982.0,650.0 C981.7,671.3 983.3,667.3 984.0,676.0" fill="none" stroke="#fff" stroke-width="1.3" stroke-linejoin="round" stroke-linecap="butt"/>
<path class="t" d="M1043.0,476.0 C1032.7,490.7 1030.3,489.3 1012.0,520.0 C993.7,550.7 999.3,537.3 988.0,568.0 C976.7,598.7 982.3,583.0 978.0,612.0 C973.7,641.0 975.3,632.7 975.0,655.0 C974.7,677.3 976.3,671.0 977.0,679.0" />
<path class="t" d="M1058.0,482.0 L1030.0,518.0" />
<path class="t" d="M975.0,480.0 C978.3,493.3 982.3,493.3 985.0,520.0 C987.7,546.7 986.3,533.3 983.0,560.0 C979.7,586.7 977.7,586.7 975.0,600.0" />
<path class="t" d="M1016.0,480.0 C1015.3,493.3 1018.3,497.3 1014.0,520.0 C1009.7,542.7 1006.7,538.7 1003.0,548.0" />
<path class="t" d="M988.0,620.0 C992.0,628.3 991.0,631.7 1000.0,645.0 C1009.0,658.3 1001.7,656.7 1015.0,660.0 C1028.3,663.3 1025.0,661.7 1040.0,655.0 C1055.0,648.3 1048.3,651.7 1060.0,640.0 C1071.7,628.3 1067.7,631.7 1075.0,620.0 C1082.3,608.3 1079.7,610.0 1082.0,605.0" />
<path class="t" d="M1020.0,612.0 C1023.3,618.0 1020.0,624.7 1030.0,630.0 C1040.0,635.3 1039.3,634.0 1050.0,628.0 C1060.7,622.0 1058.0,617.3 1062.0,612.0" />
<ellipse class="t" cx="1033.0" cy="637.0" rx="8" ry="4.5" transform="rotate(-20 1033.0 637.0)"/>
<path class="t" d="M1069.0,565.5 L1090.0,556.0 L1108.0,548.0" />
<path class="t" d="M1089.0,520.3 L1112.0,512.0 L1140.0,500.0" />
<path class="t" d="M1100.0,520.0 C1106.7,526.7 1117.3,526.7 1120.0,540.0 C1122.7,553.3 1112.0,553.3 1108.0,560.0" />
<path class="t" d="M935.0,485.0 L1000.0,466.0 L1050.0,452.0" />
<path class="t" d="M940.0,492.0 L1000.0,474.0 L1046.0,460.0" />
<path class="t" d="M1128.0,440.0 C1135.3,435.0 1134.3,434.3 1150.0,425.0 C1165.7,415.7 1160.0,421.0 1175.0,412.0 C1190.0,403.0 1188.3,402.7 1195.0,398.0" />
<path class="t" d="M1120.0,430.0 C1128.3,425.0 1128.3,424.3 1145.0,415.0 C1161.7,405.7 1154.3,409.7 1170.0,402.0 C1185.7,394.3 1184.7,395.3 1192.0,392.0" />
<path class="t" d="M1110.0,404.0 L1122.0,400.0 L1124.0,406.0 L1112.0,410.0 Z" />
<path class="t" d="M973.0,500.0 L981.0,511.0 L989.0,498.0" />
<path class="t" d="M858.0,520.0 C856.3,533.3 855.0,533.3 853.0,560.0 C851.0,586.7 851.7,573.3 852.0,600.0 C852.3,626.7 852.0,613.3 854.0,640.0 C856.0,666.7 855.3,657.3 858.0,680.0 C860.7,702.7 860.7,698.7 862.0,708.0" />
<path class="t" d="M866.0,520.0 C865.3,533.3 864.3,533.3 864.0,560.0 C863.7,586.7 864.3,573.3 865.0,600.0 C865.7,626.7 864.3,614.7 866.0,640.0 C867.7,665.3 868.7,664.0 870.0,676.0" />
<path class="t" d="M888.0,488.0 C886.7,502.0 884.7,502.7 884.0,530.0 C883.3,557.3 885.7,543.3 886.0,570.0 C886.3,596.7 884.3,583.3 885.0,610.0 C885.7,636.7 885.3,625.3 888.0,650.0 C890.7,674.7 891.3,672.7 893.0,684.0" />
<path class="t" d="M894.0,492.0 C893.3,504.7 892.3,507.3 892.0,530.0 C891.7,552.7 892.7,550.0 893.0,560.0" />
<path class="t" d="M862.0,536.0 L876.0,532.0 L880.0,548.0 L866.0,553.0 Z" />
<path class="t" d="M858.0,556.0 L870.0,553.0 L874.0,578.0 L862.0,582.0 Z" />
<path class="t" d="M856.0,606.0 L868.0,603.0 L872.0,640.0 L860.0,644.0 Z" />
<rect class="f" x="868.7" y="497.0" width="6" height="6"/>
<rect class="f" x="861.2" y="527.7" width="7" height="6"/>
<rect class="f" x="889.0" y="542.1" width="6" height="9"/>
<rect class="f" x="855.7" y="547.9" width="9" height="9"/>
<rect class="f" x="856.7" y="561.0" width="7" height="7"/>
<rect class="f" x="921.0" y="550.5" width="6" height="10"/>
<rect class="f" x="932.9" y="511.5" width="5" height="5"/>
<rect class="f" x="901.9" y="476.4" width="7" height="8"/>
<rect class="f" x="895.7" y="466.0" width="8" height="8"/>
<rect class="f" x="909.9" y="467.0" width="5" height="8"/>
<rect class="f" x="922.7" y="470.3" width="5" height="10"/>
<rect class="f" x="916.3" y="591.4" width="5" height="6"/>
<rect class="f" x="974.1" y="551.0" width="4" height="4"/>
<rect class="f" x="859.0" y="613.5" width="6" height="7"/>
<rect class="f" x="859.0" y="629.0" width="6" height="6"/>
<rect class="f" x="900.5" y="649.0" width="5" height="6"/>
<rect class="f" x="912.7" y="618.5" width="6" height="5"/>
<path class="t" d="M858.0,706.0 C872.0,704.0 872.7,705.3 900.0,700.0 C927.3,694.7 910.0,698.0 940.0,690.0 C970.0,682.0 960.0,684.7 990.0,676.0 C1020.0,667.3 1016.7,668.0 1030.0,664.0" />
<path class="t" d="M870.0,694.0 C876.7,690.7 875.0,687.3 890.0,684.0 C905.0,680.7 900.0,682.0 915.0,684.0 C930.0,686.0 928.3,688.0 935.0,690.0" />
<path class="t" d="M990.0,668.0 C996.7,663.7 995.0,661.7 1010.0,655.0 C1025.0,648.3 1020.0,653.0 1035.0,648.0 C1050.0,643.0 1043.3,646.7 1055.0,640.0 C1066.7,633.3 1065.0,632.0 1070.0,628.0" />
<path class="t" d="M1000.0,672.0 C1008.3,668.7 1008.3,668.7 1025.0,662.0 C1041.7,655.3 1034.3,659.3 1050.0,652.0 C1065.7,644.7 1064.7,644.0 1072.0,640.0" />
<circle class="t" cx="1015.0" cy="652.0" r="3.6" />
<circle class="t" cx="1015.0" cy="652.0" r="1.4" />
<circle class="t" cx="1058.0" cy="634.0" r="3.6" />
<circle class="t" cx="1058.0" cy="634.0" r="1.4" />
<circle class="t" cx="1074.0" cy="612.0" r="3.6" />
<circle class="t" cx="1074.0" cy="612.0" r="1.4" />
<circle class="t" cx="1086.0" cy="588.0" r="3.6" />
<circle class="t" cx="1086.0" cy="588.0" r="1.4" />
<circle class="t" cx="1097.0" cy="560.0" r="3.6" />
<circle class="t" cx="1097.0" cy="560.0" r="1.4" />
<circle class="t" cx="1122.0" cy="520.0" r="3.6" />
<circle class="t" cx="1122.0" cy="520.0" r="1.4" />
<circle class="t" cx="1146.0" cy="488.0" r="3.6" />
<circle class="t" cx="1146.0" cy="488.0" r="1.4" />
<circle class="t" cx="1168.0" cy="455.0" r="3.6" />
<circle class="t" cx="1168.0" cy="455.0" r="1.4" />
<path class="f" d="M1070.0,638.0 L1076.0,634.0 L1079.0,639.0 L1073.0,643.0 Z" />
<path class="f" d="M1078.0,628.0 L1083.0,624.0 L1086.0,629.0 L1081.0,633.0 Z" />
<path class="f" d="M1172.0,440.0 L1180.0,436.0 L1188.0,446.0 L1184.0,455.0 L1174.0,453.0 Z" />
<path class="f" d="M1181.0,424.0 L1190.0,419.0 L1194.0,427.0 L1186.0,434.0 Z" />
<path class="t" d="M940.0,456.5 L943.5,461.0" />
<path class="t" d="M943.9,455.3 L947.4,459.8" />
<path class="t" d="M947.8,454.1 L951.3,458.6" />
<path class="t" d="M951.7,453.0 L955.2,457.5" />
<path class="t" d="M955.6,451.8 L959.1,456.3" />
<path class="t" d="M959.5,450.6 L963.0,455.1" />
<path class="t" d="M963.5,449.4 L967.0,453.9" />
<path class="t" d="M967.4,448.2 L970.9,452.7" />
<path class="t" d="M971.3,447.0 L974.8,451.5" />
<path class="t" d="M975.2,445.9 L978.7,450.4" />
<path class="t" d="M979.1,444.7 L982.6,449.2" />
<path class="t" d="M983.0,443.5 L986.5,448.0" />
<path class="t" d="M986.9,442.3 L990.4,446.8" />
<path class="t" d="M990.8,441.1 L994.3,445.6" />
<path class="t" d="M994.7,440.0 L998.2,444.5" />
<path class="t" d="M998.6,438.8 L1002.1,443.3" />
<path class="t" d="M1002.5,437.6 L1006.0,442.1" />
<path class="t" d="M1006.5,436.4 L1010.0,440.9" />
<path class="t" d="M1010.4,435.2 L1013.9,439.7" />
<path class="t" d="M1014.3,434.0 L1017.8,438.5" />
<path class="t" d="M1018.2,432.9 L1021.7,437.4" />
<path class="t" d="M1022.1,431.7 L1025.6,436.2" />
<path class="t" d="M1026.0,430.5 L1029.5,435.0" />
<path class="t" d="M1029.9,429.3 L1033.4,433.8" />
<path class="t" d="M1033.8,428.1 L1037.3,432.6" />
<path class="t" d="M1037.7,427.0 L1041.2,431.5" />
<path class="t" d="M1041.6,425.8 L1045.1,430.3" />
<path class="t" d="M1045.5,424.6 L1049.0,429.1" />
<path class="t" d="M1049.5,423.4 L1053.0,427.9" />
<path class="t" d="M1053.4,422.2 L1056.9,426.7" />
<path class="t" d="M1057.3,421.0 L1060.8,425.5" />
<path class="t" d="M1061.2,419.9 L1064.7,424.4" />
<path class="t" d="M1065.1,418.7 L1068.6,423.2" />
<path class="t" d="M1069.0,417.5 L1072.5,422.0" />
<path class="t" d="M1072.9,416.3 L1076.4,420.8" />
<path class="t" d="M1076.8,415.1 L1080.3,419.6" />
<path class="t" d="M1080.7,414.0 L1084.2,418.5" />
<path class="t" d="M1084.6,412.8 L1088.1,417.3" />
<path class="t" d="M1088.5,411.6 L1092.0,416.1" />
<path class="t" d="M1092.5,410.4 L1096.0,414.9" />
<path class="t" d="M1096.4,409.2 L1099.9,413.7" />
<path class="t" d="M1100.3,408.0 L1103.8,412.5" />
<path class="t" d="M1104.2,406.9 L1107.7,411.4" />
<path class="t" d="M1108.1,405.7 L1111.6,410.2" />
<path class="t" d="M962.0,362.0 L966.0,364.5" />
<path class="t" d="M960.0,368.2 L964.0,370.8" />
<path class="t" d="M958.0,374.5 L961.9,377.1" />
<path class="t" d="M956.0,380.8 L959.9,383.3" />
<path class="t" d="M954.0,387.0 L957.9,389.6" />
<path class="t" d="M952.0,393.2 L955.8,395.9" />
<path class="t" d="M950.0,399.5 L953.8,402.2" />
<path class="t" d="M948.0,405.8 L951.8,408.5" />
<path class="t" d="M946.0,412.0 L949.8,414.8" />
<path class="t" d="M944.0,418.2 L947.7,421.0" />
<path class="t" d="M942.0,424.5 L945.7,427.3" />
<path class="t" d="M940.0,430.8 L943.7,433.6" />
<path class="t" d="M938.0,437.0 L941.6,439.9" />
<path class="t" d="M936.0,443.2 L939.6,446.2" />
<path class="t" d="M934.0,449.5 L937.6,452.4" />
<path class="t" d="M932.0,455.8 L935.5,458.7" />
<path class="t" d="M1000.0,335.5 L1007.0,334.1" />
<path class="t" d="M1026.0,330.2 L1033.0,328.8" />
<path class="t" d="M1052.0,324.8 L1059.0,323.4" />
<path class="t" d="M1078.0,319.5 L1085.0,318.1" />
<path class="t" d="M1104.0,314.2 L1111.0,312.8" />
<path class="t" d="M1130.0,308.9 L1137.0,307.5" />
<path class="t" d="M1156.0,305.4 L1163.0,304.0" />
<path class="t" d="M1182.0,307.2 L1189.0,305.8" />
<path class="t" d="M1208.0,309.1 L1215.0,307.7" />
</g>
</svg>
</body></html>
